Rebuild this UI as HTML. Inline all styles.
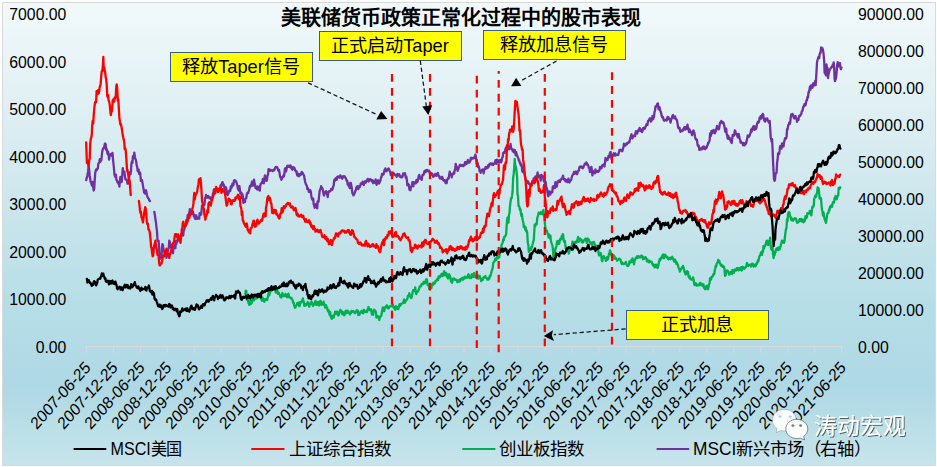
<!DOCTYPE html>
<html lang="zh-CN"><head><meta charset="utf-8"><style>
html,body{margin:0;padding:0;background:#fff;width:937px;height:467px;overflow:hidden}
#c{position:absolute;left:2px;top:2px;width:934px;height:464px;box-sizing:border-box;border:1px solid #d9d9d9;
background:linear-gradient(to bottom,#f2f9fb 0%,#deeff3 24.5%,#c5e3ea 50.5%,#b6dee7 65.5%,#aed8e5 83%,#badfe7 91.5%,#c7e4ec 100%)}
svg{position:absolute;left:0;top:0}
text{font-family:"Liberation Sans",sans-serif}
</style></head><body>
<div id="c"></div>
<svg width="937" height="467" viewBox="0 0 937 467">
<g font-size="15.8" fill="#000"><text x="66.4" y="352.9" text-anchor="end">0.00</text><text x="66.4" y="305.3" text-anchor="end">1000.00</text><text x="66.4" y="257.8" text-anchor="end">2000.00</text><text x="66.4" y="210.2" text-anchor="end">3000.00</text><text x="66.4" y="162.6" text-anchor="end">4000.00</text><text x="66.4" y="115.1" text-anchor="end">5000.00</text><text x="66.4" y="67.5" text-anchor="end">6000.00</text><text x="66.4" y="19.9" text-anchor="end">7000.00</text><text x="858" y="352.9">0.00</text><text x="858" y="315.9">10000.00</text><text x="858" y="278.9">20000.00</text><text x="858" y="242.0">30000.00</text><text x="858" y="205.0">40000.00</text><text x="858" y="168.0">50000.00</text><text x="858" y="131.0">60000.00</text><text x="858" y="94.0">70000.00</text><text x="858" y="57.1">80000.00</text><text x="858" y="20.1">90000.00</text></g>
<path d="M86.4,346.5 H841.7 M86.4,346.5 V352.5 M113.4,346.5 V352.5 M140.4,346.5 V352.5 M167.3,346.5 V352.5 M194.3,346.5 V352.5 M221.3,346.5 V352.5 M248.2,346.5 V352.5 M275.2,346.5 V352.5 M302.2,346.5 V352.5 M329.2,346.5 V352.5 M356.2,346.5 V352.5 M383.1,346.5 V352.5 M410.1,346.5 V352.5 M437.1,346.5 V352.5 M464.1,346.5 V352.5 M491.0,346.5 V352.5 M518.0,346.5 V352.5 M545.0,346.5 V352.5 M572.0,346.5 V352.5 M598.9,346.5 V352.5 M625.9,346.5 V352.5 M652.9,346.5 V352.5 M679.9,346.5 V352.5 M706.8,346.5 V352.5 M733.8,346.5 V352.5 M760.8,346.5 V352.5 M787.8,346.5 V352.5 M814.7,346.5 V352.5 M841.7,346.5 V352.5" stroke="#d9d9d9" stroke-width="1" fill="none"/>
<g font-size="15.1" fill="#000"><text transform="translate(91.4,368.5) scale(1,1.13) rotate(-45)" text-anchor="end">2007-06-25</text><text transform="translate(118.4,368.5) scale(1,1.13) rotate(-45)" text-anchor="end">2007-12-25</text><text transform="translate(145.4,368.5) scale(1,1.13) rotate(-45)" text-anchor="end">2008-06-25</text><text transform="translate(172.3,368.5) scale(1,1.13) rotate(-45)" text-anchor="end">2008-12-25</text><text transform="translate(199.3,368.5) scale(1,1.13) rotate(-45)" text-anchor="end">2009-06-25</text><text transform="translate(226.3,368.5) scale(1,1.13) rotate(-45)" text-anchor="end">2009-12-25</text><text transform="translate(253.2,368.5) scale(1,1.13) rotate(-45)" text-anchor="end">2010-06-25</text><text transform="translate(280.2,368.5) scale(1,1.13) rotate(-45)" text-anchor="end">2010-12-25</text><text transform="translate(307.2,368.5) scale(1,1.13) rotate(-45)" text-anchor="end">2011-06-25</text><text transform="translate(334.2,368.5) scale(1,1.13) rotate(-45)" text-anchor="end">2011-12-25</text><text transform="translate(361.2,368.5) scale(1,1.13) rotate(-45)" text-anchor="end">2012-06-25</text><text transform="translate(388.1,368.5) scale(1,1.13) rotate(-45)" text-anchor="end">2012-12-25</text><text transform="translate(415.1,368.5) scale(1,1.13) rotate(-45)" text-anchor="end">2013-06-25</text><text transform="translate(442.1,368.5) scale(1,1.13) rotate(-45)" text-anchor="end">2013-12-25</text><text transform="translate(469.1,368.5) scale(1,1.13) rotate(-45)" text-anchor="end">2014-06-25</text><text transform="translate(496.0,368.5) scale(1,1.13) rotate(-45)" text-anchor="end">2014-12-25</text><text transform="translate(523.0,368.5) scale(1,1.13) rotate(-45)" text-anchor="end">2015-06-25</text><text transform="translate(550.0,368.5) scale(1,1.13) rotate(-45)" text-anchor="end">2015-12-25</text><text transform="translate(577.0,368.5) scale(1,1.13) rotate(-45)" text-anchor="end">2016-06-25</text><text transform="translate(603.9,368.5) scale(1,1.13) rotate(-45)" text-anchor="end">2016-12-25</text><text transform="translate(630.9,368.5) scale(1,1.13) rotate(-45)" text-anchor="end">2017-06-25</text><text transform="translate(657.9,368.5) scale(1,1.13) rotate(-45)" text-anchor="end">2017-12-25</text><text transform="translate(684.9,368.5) scale(1,1.13) rotate(-45)" text-anchor="end">2018-06-25</text><text transform="translate(711.8,368.5) scale(1,1.13) rotate(-45)" text-anchor="end">2018-12-25</text><text transform="translate(738.8,368.5) scale(1,1.13) rotate(-45)" text-anchor="end">2019-06-25</text><text transform="translate(765.8,368.5) scale(1,1.13) rotate(-45)" text-anchor="end">2019-12-25</text><text transform="translate(792.8,368.5) scale(1,1.13) rotate(-45)" text-anchor="end">2020-06-25</text><text transform="translate(819.7,368.5) scale(1,1.13) rotate(-45)" text-anchor="end">2020-12-25</text><text transform="translate(846.7,368.5) scale(1,1.13) rotate(-45)" text-anchor="end">2021-06-25</text></g>
<g fill="none" stroke-width="2.3" stroke-linejoin="round" stroke-linecap="round"><path d="M86.2 180.2 86.7 177.4 87.2 177.3 87.6 174.2 88.1 171.2 88.6 166.5 89.1 169.0 89.6 175.2 90.1 177.8 90.6 181.9 91.2 183.0 91.7 184.7 92.2 185.9 92.7 182.0 93.2 187.4 93.7 190.5 94.2 188.9 94.7 180.1 95.2 173.3 95.7 170.7 96.2 169.4 96.8 170.1 97.3 168.6 97.8 168.5 98.3 163.9 98.8 163.0 99.3 162.5 99.8 159.1 100.3 161.9 100.8 160.5 101.3 160.5 101.8 155.7 102.2 151.8 102.7 149.6 103.2 148.2 103.7 148.5 104.2 147.2 104.7 144.2 105.2 143.4 105.7 144.5 106.2 150.0 106.7 149.1 107.1 151.6 107.6 154.1 108.1 151.6 108.6 154.3 109.1 159.6 109.6 154.8 110.1 154.9 110.6 155.2 111.0 154.0 111.5 155.7 112.0 155.6 112.5 152.8 113.0 159.3 113.5 164.0 114.0 169.0 114.5 174.7 115.0 176.1 115.5 177.2 115.9 174.6 116.4 179.8 116.9 180.3 117.4 182.2 117.9 181.9 118.4 183.6 118.9 183.0 119.4 186.6 119.9 180.3 120.4 177.0 120.8 178.6 121.3 182.0 121.8 181.6 122.3 174.7 122.8 168.2 123.3 172.2 123.8 172.4 124.4 171.7 124.9 176.1 125.4 179.4 125.9 179.4 126.4 179.7 127.0 180.5 127.5 183.7 128.0 183.6 128.5 181.6 129.0 179.7 129.5 172.3 129.9 174.4 130.4 174.3 130.9 172.4 131.4 164.0 131.9 161.4 132.4 163.0 132.9 156.4 133.3 155.8 133.8 158.0 134.3 152.6 134.8 156.2 135.3 159.0 135.8 159.7 136.3 162.2 136.7 165.4 137.2 166.8 137.7 171.2 138.2 170.0 138.7 169.7 139.1 173.8 139.6 174.2 140.1 172.5 140.5 176.6 141.0 181.0 141.5 181.2 142.0 180.1 142.6 183.4 143.1 186.6 143.6 189.3 144.1 192.7 144.6 190.7 145.1 193.6 145.5 191.0 146.0 190.3 146.5 192.5 147.0 195.0 147.5 197.1 148.0 197.9 148.5 198.5 149.0 199.2 149.5 200.9 150.0 201.0" stroke="#7030a0"/><path d="M154.3 211.8 154.9 215.2 155.4 219.3 155.9 221.8 156.5 227.3 157.0 231.4 157.5 240.5 158.1 241.5 158.6 240.7 159.1 248.2 159.6 257.9 160.1 258.7 160.5 255.4 161.0 254.7 161.5 257.5 162.0 247.4 162.4 244.1 162.9 245.0 163.4 248.8 163.9 251.4 164.5 251.6 165.0 255.7 165.5 255.2 166.0 252.6 166.4 257.9 166.9 256.0 167.4 252.2 167.9 250.6 168.3 249.0 168.8 248.1 169.3 240.7 169.8 242.1 170.4 246.8 170.9 244.6 171.4 245.9 172.0 249.3 172.5 251.4 173.0 253.1 173.5 247.3 173.9 246.2 174.4 245.3 174.9 246.5 175.4 248.1 175.8 241.1 176.3 244.2 176.8 240.7 177.3 241.8 177.8 238.4 178.3 238.6 178.8 240.0 179.2 238.3 179.7 237.3 180.2 237.2 180.7 235.7 181.2 234.0 181.7 235.5 182.2 235.3 182.7 232.1 183.2 235.5 183.8 229.8 184.3 229.7 184.8 227.0 185.3 225.6 185.8 225.4 186.3 223.9 186.8 223.4 187.3 218.5 187.8 215.0 188.3 216.4 188.9 213.9 189.4 211.7 189.9 209.1 190.4 212.2 190.9 212.9 191.4 214.3 191.9 212.4 192.4 212.7 192.9 211.5 193.4 213.7 193.9 216.5 194.4 215.0 194.8 217.8 195.3 219.0 195.8 218.3 196.3 215.5 196.8 218.7 197.3 218.9 197.8 218.5 198.3 218.0 198.8 217.2 199.2 218.6 199.7 213.2 200.2 214.0 200.7 214.8 201.1 214.7 201.6 210.4 202.1 205.7 202.6 206.5 203.1 205.2 203.6 204.2 204.1 205.4 204.6 203.2 205.1 198.1 205.5 197.8 206.0 194.9 206.5 197.2 207.0 197.7 207.5 196.2 208.0 196.0 208.5 197.1 209.0 196.7 209.5 198.3 210.0 197.2 210.5 198.0 211.0 199.2 211.5 200.1 212.0 197.1 212.5 197.4 213.0 193.3 213.5 191.8 214.0 189.3 214.5 192.4 215.0 190.7 215.5 191.0 216.0 190.8 216.5 190.6 217.0 189.5 217.5 189.8 218.0 192.0 218.5 190.7 219.0 190.3 219.5 190.6 220.0 188.8 220.5 185.8 221.0 184.7 221.5 186.2 222.0 182.9 222.5 182.1 223.0 183.8 223.5 184.3 224.0 185.5 224.5 188.6 224.9 189.8 225.4 188.4 225.9 187.2 226.4 189.0 226.8 194.0 227.3 194.7 227.8 195.0 228.3 193.7 228.8 191.2 229.3 191.6 229.8 189.8 230.3 190.9 230.8 186.5 231.3 188.0 231.8 186.9 232.4 183.6 232.9 185.7 233.4 185.0 233.9 180.8 234.4 180.1 234.9 181.3 235.4 180.5 235.9 181.7 236.4 182.1 236.9 184.3 237.4 185.4 237.9 188.6 238.4 189.8 238.9 190.5 239.4 186.1 239.9 189.9 240.4 193.6 240.9 193.1 241.4 192.8 241.9 198.1 242.4 194.2 242.9 196.7 243.4 202.9 243.9 200.3 244.4 200.2 244.9 202.2 245.3 199.3 245.8 198.4 246.3 198.2 246.8 194.2 247.3 192.9 247.8 192.5 248.2 193.0 248.7 191.3 249.2 189.6 249.7 186.8 250.2 185.8 250.6 186.8 251.1 185.9 251.6 183.4 252.1 181.5 252.5 185.6 253.0 185.5 253.5 184.3 254.0 179.7 254.5 182.4 254.9 184.2 255.4 187.7 255.9 188.2 256.4 188.0 256.8 189.2 257.3 186.3 257.8 189.6 258.3 189.3 258.8 186.8 259.3 188.8 259.8 190.7 260.3 185.6 260.9 183.4 261.4 183.5 261.9 183.0 262.4 181.4 262.9 179.0 263.4 182.9 263.9 183.2 264.4 178.9 264.9 175.5 265.4 178.8 266.0 179.3 266.5 180.9 267.0 179.8 267.5 175.6 268.0 174.7 268.5 169.3 269.0 169.1 269.5 169.8 270.0 170.9 270.5 169.8 271.0 169.8 271.5 170.5 272.0 170.7 272.5 171.1 273.1 170.7 273.6 169.6 274.1 170.3 274.6 169.6 275.1 168.0 275.6 167.0 276.1 167.2 276.6 167.0 277.1 167.1 277.6 168.4 278.1 170.0 278.5 170.9 279.0 169.9 279.5 172.7 280.0 176.2 280.5 177.7 281.0 178.0 281.4 179.8 281.9 178.8 282.4 176.8 282.9 177.2 283.4 175.3 283.9 176.5 284.4 173.8 284.9 168.9 285.4 168.1 285.9 171.6 286.4 170.1 286.9 167.0 287.4 165.7 287.9 166.5 288.4 166.7 288.9 165.8 289.4 167.0 289.9 166.1 290.4 165.5 290.9 166.2 291.4 168.5 291.9 169.1 292.4 169.7 292.9 167.2 293.4 167.1 293.9 168.5 294.5 168.0 295.0 170.0 295.5 170.7 296.0 171.8 296.5 171.1 297.0 174.9 297.5 175.6 298.0 174.0 298.5 173.6 299.0 176.3 299.5 174.4 300.1 174.7 300.6 175.1 301.1 174.1 301.6 172.0 302.1 172.4 302.7 172.9 303.2 174.3 303.7 174.8 304.2 176.2 304.7 179.8 305.2 182.1 305.7 183.5 306.2 184.8 306.8 185.7 307.3 189.2 307.8 188.0 308.3 189.0 308.8 191.9 309.3 190.6 309.8 192.0 310.3 190.2 310.8 191.9 311.3 195.7 311.8 198.5 312.3 199.5 312.8 200.1 313.2 198.6 313.7 204.1 314.2 205.5 314.7 207.8 315.2 205.9 315.7 206.3 316.2 203.8 316.7 207.4 317.2 208.3 317.7 201.5 318.1 201.0 318.6 201.6 319.1 195.8 319.6 191.3 320.1 189.6 320.6 189.0 321.1 186.2 321.5 187.2 322.0 187.8 322.5 188.5 323.0 190.7 323.5 193.8 324.1 195.5 324.6 192.5 325.1 192.3 325.6 191.5 326.1 191.2 326.7 193.1 327.2 194.8 327.7 197.1 328.2 193.4 328.7 191.3 329.2 191.8 329.7 191.5 330.2 190.9 330.7 190.6 331.2 188.8 331.7 190.0 332.2 189.8 332.7 188.6 333.2 186.4 333.7 185.6 334.2 180.2 334.7 179.5 335.2 180.6 335.7 178.2 336.2 179.4 336.7 179.8 337.2 177.0 337.7 176.9 338.2 176.4 338.7 177.2 339.2 177.7 339.7 176.5 340.2 175.4 340.7 175.9 341.2 176.5 341.7 178.2 342.2 178.7 342.7 177.7 343.2 176.2 343.7 176.8 344.2 176.7 344.7 176.3 345.2 177.6 345.7 178.0 346.2 179.3 346.7 180.8 347.2 180.6 347.7 184.6 348.2 183.4 348.7 186.0 349.2 185.9 349.8 188.2 350.3 182.9 350.8 183.0 351.3 185.5 351.8 188.0 352.4 193.5 352.9 193.3 353.4 195.4 353.9 194.4 354.4 193.8 354.9 192.6 355.4 190.6 355.9 190.2 356.3 187.3 356.8 188.8 357.3 186.2 357.8 186.3 358.3 189.1 358.8 187.1 359.3 186.1 359.8 187.0 360.3 185.7 360.8 183.3 361.2 183.3 361.7 183.7 362.2 183.9 362.7 181.6 363.2 183.9 363.7 185.1 364.2 183.5 364.7 182.7 365.2 181.2 365.7 182.7 366.2 180.7 366.7 181.3 367.2 180.0 367.7 178.9 368.2 180.0 368.7 181.5 369.2 180.6 369.7 179.1 370.2 180.1 370.7 179.5 371.2 179.6 371.7 181.2 372.2 181.7 372.7 180.3 373.2 183.2 373.7 182.3 374.2 182.8 374.7 181.5 375.2 181.6 375.6 179.5 376.1 182.9 376.6 184.8 377.1 182.8 377.6 181.2 378.1 180.2 378.6 183.3 379.1 183.4 379.6 182.5 380.1 181.1 380.6 180.1 381.0 177.3 381.5 177.2 382.0 173.9 382.5 174.0 383.0 174.4 383.5 174.5 384.0 172.9 384.4 170.2 384.9 170.1 385.4 168.4 385.9 170.7 386.4 171.3 386.9 170.7 387.4 169.9 387.9 169.1 388.4 168.5 388.9 168.9 389.4 170.1 389.8 171.3 390.3 172.3 390.8 175.0 391.3 173.2 391.8 173.1 392.3 176.8 392.8 173.1 393.3 172.6 393.8 173.4 394.3 174.0 394.7 174.8 395.2 174.6 395.7 175.4 396.2 175.6 396.7 176.9 397.2 174.2 397.7 173.9 398.1 175.0 398.6 174.5 399.1 174.2 399.6 176.5 400.1 175.6 400.6 176.7 401.2 177.4 401.7 177.2 402.2 177.2 402.7 176.1 403.2 173.5 403.8 173.6 404.3 174.2 404.8 173.1 405.3 174.4 405.8 177.8 406.3 176.5 406.8 179.7 407.4 185.3 407.9 183.5 408.4 184.5 408.9 184.8 409.4 189.6 409.9 190.2 410.4 190.2 410.9 187.3 411.4 186.4 411.9 185.8 412.4 182.2 412.9 185.2 413.4 186.2 413.8 182.1 414.3 183.6 414.8 183.0 415.3 183.4 415.8 183.4 416.3 180.1 416.8 180.0 417.3 182.2 417.8 180.3 418.3 178.3 418.7 176.2 419.2 174.9 419.7 176.1 420.2 178.7 420.7 178.3 421.2 177.6 421.7 179.9 422.1 177.1 422.6 174.8 423.1 174.9 423.6 174.8 424.1 172.6 424.6 170.8 425.1 171.8 425.6 172.2 426.1 170.2 426.7 170.4 427.2 169.9 427.7 171.1 428.2 170.9 428.7 170.7 429.2 170.7 429.7 172.8 430.2 174.7 430.7 173.6 431.2 174.7 431.7 173.3 432.2 173.7 432.7 174.9 433.3 176.9 433.8 175.7 434.3 175.5 434.8 175.8 435.3 173.8 435.8 174.7 436.3 174.5 436.8 175.8 437.3 174.8 437.8 172.8 438.3 174.6 438.8 176.2 439.2 176.1 439.7 178.3 440.2 178.1 440.7 177.6 441.2 178.9 441.7 176.9 442.2 176.9 442.7 178.1 443.2 180.2 443.6 180.2 444.1 180.9 444.6 180.1 445.1 181.1 445.6 183.0 446.1 180.4 446.6 183.2 447.1 180.1 447.6 178.9 448.1 178.1 448.6 178.7 449.1 175.3 449.7 171.6 450.2 173.1 450.7 174.2 451.2 174.4 451.7 177.4 452.2 175.3 452.7 173.8 453.2 173.7 453.7 172.5 454.2 173.7 454.7 170.2 455.2 169.1 455.7 163.8 456.2 166.5 456.6 166.4 457.1 168.1 457.6 170.9 458.1 169.5 458.6 168.1 459.1 166.8 459.6 165.3 460.1 164.6 460.6 165.8 461.1 165.7 461.5 165.6 462.0 165.0 462.5 166.1 463.0 166.2 463.5 165.2 464.0 165.6 464.5 164.5 465.0 162.2 465.5 164.5 466.0 164.3 466.5 162.0 466.9 163.4 467.4 163.1 467.9 159.9 468.4 162.5 468.9 162.1 469.4 162.6 469.9 161.8 470.4 160.6 470.9 157.6 471.4 159.3 471.8 158.9 472.3 158.0 472.8 158.3 473.3 157.9 473.8 158.4 474.3 157.1 474.8 157.8 475.3 154.6 475.8 156.1 476.2 159.5 476.7 163.3 477.2 162.8 477.7 163.2 478.2 167.1 478.7 166.3 479.2 168.1 479.6 171.4 480.1 170.7 480.6 172.8 481.1 170.8 481.6 170.4 482.1 169.7 482.6 169.4 483.1 170.7 483.6 173.4 484.1 170.5 484.6 168.7 485.1 169.1 485.7 166.9 486.2 167.8 486.7 168.4 487.2 167.5 487.7 168.0 488.2 165.2 488.7 166.8 489.2 164.3 489.7 163.9 490.2 163.6 490.7 163.4 491.2 164.7 491.6 164.4 492.1 163.4 492.6 163.7 493.1 165.0 493.6 163.8 494.1 163.3 494.6 163.8 495.0 162.8 495.5 160.1 496.0 162.7 496.5 163.9 497.0 159.7 497.5 159.8 498.1 160.6 498.6 161.9 499.1 162.5 499.6 161.5 500.1 159.9 500.7 160.5 501.2 162.3 501.7 160.5 502.2 157.6 502.7 157.2 503.2 152.8 503.6 152.8 504.1 152.0 504.6 152.8 505.1 150.6 505.6 148.5 506.1 147.6 506.6 147.2 507.0 145.4 507.5 145.1 508.0 145.9 508.5 146.8 509.0 149.4 509.5 147.5 510.1 147.1 510.6 143.9 511.1 148.9 511.6 148.4 512.1 149.4 512.7 151.2 513.2 149.7 513.7 151.9 514.2 152.5 514.7 149.8 515.2 152.0 515.7 155.3 516.2 152.1 516.8 155.0 517.3 155.9 517.8 157.2 518.3 158.2 518.8 160.5 519.3 160.3 519.8 163.1 520.3 162.6 520.7 165.3 521.2 164.2 521.7 165.5 522.2 170.9 522.7 172.1 523.2 172.1 523.7 170.4 524.1 170.6 524.6 173.4 525.1 177.3 525.6 179.3 526.1 180.3 526.6 180.3 527.2 182.8 527.7 182.0 528.2 181.4 528.7 183.6 529.2 184.0 529.8 184.0 530.3 183.8 530.8 184.5 531.3 185.1 531.8 184.7 532.3 181.2 532.7 181.7 533.2 181.3 533.7 178.5 534.2 179.6 534.7 178.2 535.2 176.8 535.7 177.7 536.1 178.9 536.6 175.7 537.1 175.4 537.6 172.5 538.1 177.1 538.6 175.4 539.1 177.4 539.6 175.7 540.1 177.1 540.7 180.6 541.2 175.0 541.7 175.0 542.2 176.7 542.7 177.0 543.2 176.3 543.7 180.8 544.2 181.8 544.7 179.4 545.2 183.9 545.7 181.8 546.2 187.4 546.8 187.9 547.3 190.4 547.8 195.1 548.3 196.3 548.8 194.5 549.3 191.4 549.8 193.9 550.3 194.5 550.8 191.9 551.3 192.8 551.8 192.5 552.3 192.2 552.8 186.7 553.4 186.2 553.9 187.6 554.4 188.0 554.9 188.1 555.4 182.2 555.9 182.5 556.4 183.0 556.9 186.5 557.4 182.5 557.9 181.3 558.4 181.0 558.9 182.0 559.4 180.5 560.0 181.9 560.5 179.7 561.0 179.8 561.5 178.6 562.0 178.7 562.5 177.4 563.0 175.7 563.5 178.6 564.0 179.5 564.5 178.9 565.0 179.6 565.5 181.4 566.0 179.8 566.4 180.0 566.9 181.3 567.4 182.1 567.9 181.5 568.4 178.6 568.9 181.7 569.4 182.5 569.9 181.7 570.4 180.4 570.9 180.3 571.4 178.8 572.0 176.5 572.5 175.3 573.0 174.5 573.5 173.7 574.0 172.0 574.5 173.9 575.0 171.8 575.5 173.3 576.0 171.5 576.5 172.3 577.0 174.2 577.4 173.4 577.9 171.2 578.4 170.8 578.9 170.5 579.4 167.2 579.9 166.6 580.4 167.2 580.9 166.4 581.4 166.6 581.9 167.5 582.3 168.0 582.8 168.3 583.3 167.8 583.8 165.9 584.3 164.9 584.8 163.7 585.3 163.7 585.8 164.2 586.3 162.3 586.8 163.4 587.3 164.8 587.8 164.4 588.3 165.8 588.8 167.8 589.4 168.2 589.9 172.1 590.4 167.6 590.9 168.6 591.4 166.9 591.9 170.4 592.4 175.4 592.9 170.9 593.4 172.2 593.9 173.1 594.4 172.4 594.9 173.2 595.4 169.4 595.9 171.6 596.4 172.2 597.0 172.0 597.5 170.9 598.0 171.9 598.5 170.9 599.0 171.2 599.5 170.3 600.0 167.0 600.5 167.3 601.0 167.5 601.5 168.2 602.0 165.7 602.5 165.1 603.0 165.3 603.5 164.4 604.0 165.2 604.5 166.5 605.0 162.5 605.5 158.0 606.0 159.0 606.5 160.4 607.0 160.0 607.5 160.0 608.0 157.7 608.5 156.0 609.1 157.3 609.6 155.3 610.1 152.5 610.6 151.9 611.1 156.8 611.6 159.1 612.2 156.4 612.7 154.6 613.2 154.8 613.7 153.3 614.2 155.5 614.7 155.1 615.2 153.4 615.6 155.6 616.1 154.5 616.6 154.9 617.1 154.9 617.6 154.4 618.1 155.1 618.5 154.1 619.0 151.9 619.5 149.9 620.0 150.0 620.5 149.7 621.0 150.4 621.5 150.7 622.0 151.3 622.5 150.7 623.0 148.7 623.5 147.2 623.9 143.7 624.4 144.2 624.9 145.2 625.4 145.6 625.9 144.6 626.4 143.5 626.9 144.2 627.4 143.0 627.9 143.1 628.4 142.7 628.9 141.6 629.4 142.4 629.9 139.6 630.4 137.9 631.0 135.9 631.5 134.3 632.0 136.7 632.5 138.3 633.0 136.4 633.5 135.7 634.0 136.0 634.5 135.8 635.0 136.3 635.5 132.7 636.0 131.2 636.5 131.9 637.0 133.7 637.5 132.8 638.1 130.7 638.6 130.0 639.1 129.0 639.6 127.9 640.1 130.8 640.6 129.3 641.1 129.3 641.6 131.9 642.1 132.0 642.6 130.6 643.1 128.1 643.5 127.8 644.0 129.1 644.5 128.3 645.0 128.5 645.5 126.7 646.0 126.0 646.5 124.3 647.0 124.0 647.5 124.9 648.0 121.1 648.5 120.6 648.9 120.5 649.4 119.0 649.9 118.2 650.4 119.2 650.9 121.6 651.4 120.8 651.9 119.9 652.4 115.9 653.0 119.2 653.5 118.1 654.0 117.0 654.5 111.9 655.0 110.6 655.5 106.5 656.0 106.2 656.5 106.3 657.0 104.7 657.5 103.6 658.0 103.5 658.5 109.3 659.0 109.1 659.5 107.1 660.1 110.2 660.6 111.6 661.1 112.7 661.6 115.6 662.1 117.3 662.6 116.6 663.1 117.4 663.6 120.0 664.1 120.7 664.6 120.1 665.0 120.1 665.5 119.8 666.0 119.6 666.5 120.6 667.0 120.1 667.5 116.8 668.0 117.8 668.5 117.3 669.0 119.1 669.5 118.6 670.0 119.4 670.5 122.7 671.0 120.5 671.5 119.0 672.0 117.7 672.5 115.6 673.1 115.0 673.6 117.6 674.1 118.0 674.6 116.7 675.1 116.4 675.6 119.0 676.1 118.9 676.6 119.5 677.1 120.8 677.6 124.1 678.1 127.4 678.6 128.3 679.0 127.7 679.5 127.6 680.0 130.4 680.5 131.9 681.0 130.3 681.5 130.7 682.0 130.9 682.4 131.0 682.9 130.3 683.4 128.8 683.9 129.3 684.4 127.1 684.9 129.4 685.4 129.6 686.0 127.0 686.5 128.7 687.0 128.8 687.5 124.7 688.0 127.0 688.5 128.7 689.0 132.2 689.5 129.3 690.0 130.6 690.5 131.7 691.0 132.3 691.5 133.0 692.0 135.2 692.5 132.7 693.0 131.3 693.5 130.4 694.0 131.9 694.4 133.0 694.9 136.2 695.4 138.4 695.9 139.6 696.4 139.2 696.9 139.8 697.4 143.4 697.8 145.7 698.3 146.1 698.8 145.8 699.3 149.9 699.8 148.1 700.3 148.5 700.8 149.5 701.3 148.4 701.8 149.2 702.3 147.2 702.8 148.7 703.2 148.7 703.7 146.4 704.2 147.9 704.7 147.0 705.2 149.2 705.7 148.2 706.2 148.2 706.7 147.7 707.2 145.6 707.7 145.0 708.1 142.6 708.6 143.0 709.1 141.5 709.6 140.5 710.1 133.4 710.6 136.3 711.1 135.4 711.5 130.8 712.0 131.1 712.5 131.6 713.0 132.7 713.5 129.9 714.0 132.0 714.5 130.5 715.0 133.3 715.5 131.0 716.0 130.7 716.5 128.6 717.0 126.0 717.5 127.5 718.0 128.0 718.5 129.4 719.0 129.1 719.4 126.6 719.9 123.1 720.4 122.3 720.9 121.7 721.4 120.9 721.9 122.5 722.3 123.1 722.8 122.4 723.3 122.5 723.8 123.7 724.3 125.7 724.8 128.7 725.2 131.6 725.7 130.5 726.2 128.6 726.7 134.0 727.2 135.3 727.7 138.7 728.2 135.7 728.6 137.0 729.1 139.1 729.6 137.9 730.1 139.6 730.6 140.9 731.1 141.9 731.7 143.0 732.2 138.9 732.7 134.9 733.2 135.2 733.7 135.8 734.3 134.4 734.8 130.3 735.3 131.0 735.8 133.2 736.3 134.6 736.8 133.9 737.2 135.2 737.7 137.3 738.2 136.5 738.7 133.9 739.2 136.6 739.7 138.9 740.2 139.9 740.6 142.5 741.1 141.8 741.6 142.6 742.1 143.0 742.6 143.5 743.1 145.2 743.6 143.0 744.1 145.2 744.6 145.4 745.1 144.2 745.6 142.8 746.1 143.5 746.7 140.6 747.2 138.6 747.7 135.4 748.2 135.7 748.7 137.0 749.2 136.3 749.7 135.4 750.2 133.5 750.7 132.7 751.2 129.5 751.7 131.5 752.2 130.2 752.6 128.0 753.1 127.0 753.6 126.1 754.1 128.2 754.6 129.8 755.1 126.6 755.5 128.2 756.0 129.1 756.5 127.0 757.0 124.0 757.5 122.7 758.0 121.7 758.6 122.6 759.1 121.6 759.6 117.6 760.1 118.9 760.6 116.2 761.1 118.7 761.7 116.1 762.2 115.1 762.7 113.9 763.2 114.7 763.7 118.5 764.2 120.3 764.7 121.3 765.2 121.6 765.8 118.7 766.3 118.8 766.8 118.9 767.3 118.5 767.8 120.8 768.3 121.2 768.8 122.3 769.3 122.9 769.7 120.8 770.2 128.7 770.7 137.1 771.2 139.6 771.7 141.8 772.1 139.1 772.6 149.8 773.1 162.7 773.5 169.9 774.0 179.0 774.5 180.8 775.0 180.0 775.5 173.4 776.0 173.7 776.6 172.2 777.1 162.5 777.6 159.5 778.1 153.3 778.6 153.4 779.1 154.0 779.6 150.7 780.1 146.1 780.5 148.6 781.0 147.8 781.5 148.6 782.0 143.4 782.5 143.7 783.0 145.0 783.5 146.5 784.0 142.5 784.5 140.6 785.1 138.1 785.6 138.5 786.1 138.5 786.6 136.2 787.1 129.2 787.6 129.3 788.2 125.3 788.7 124.8 789.2 122.7 789.7 124.0 790.2 122.7 790.8 116.9 791.3 114.4 791.8 115.6 792.3 113.8 792.8 114.4 793.4 116.2 793.9 118.0 794.4 118.5 795.0 116.6 795.5 115.9 796.0 118.0 796.5 118.6 797.0 121.9 797.4 119.2 797.9 120.2 798.4 120.2 798.9 116.8 799.3 115.6 799.8 116.2 800.3 115.6 800.8 114.3 801.3 114.1 801.9 111.1 802.4 111.0 802.9 108.4 803.4 106.3 803.9 106.5 804.5 104.1 805.0 103.6 805.5 105.3 806.0 102.7 806.5 100.1 807.0 100.0 807.5 96.9 808.0 97.4 808.5 92.1 809.0 92.3 809.5 89.4 810.0 86.4 810.5 89.5 811.0 85.3 811.5 87.7 812.0 87.0 812.6 87.7 813.1 83.5 813.6 84.5 814.1 85.5 814.7 82.9 815.2 81.0 815.7 85.1 816.1 78.1 816.6 70.0 817.0 62.5 817.5 60.0 818.0 58.5 818.6 56.6 819.2 58.1 819.7 54.0 820.2 52.5 820.6 52.9 821.1 47.5 821.5 47.6 822.0 48.7 822.5 48.3 823.0 50.2 823.5 53.2 824.2 61.5 824.6 72.5 825.0 73.5 825.5 73.7 826.0 75.4 826.5 64.5 827.0 69.0 827.5 67.7 828.0 78.0 828.5 74.1 829.1 71.7 829.7 69.9 830.2 69.0 830.7 68.0 831.2 67.8 831.7 66.6 832.2 66.8 832.7 64.7 833.2 65.2 833.7 62.3 834.1 66.4 834.6 78.5 835.0 81.2 835.5 79.5 836.0 78.5 836.6 72.4 837.2 64.8 837.7 62.2 838.2 65.2 838.6 66.3 839.1 66.1 839.5 64.5 840.0 63.0 840.5 68.1 841.0 69.2 841.5 67.5" stroke="#7030a0"/><path d="M245.3 293.8 245.8 290.7 246.3 290.9 246.8 299.8 247.4 298.3 247.9 300.2 248.4 302.5 248.9 303.8 249.4 304.9 249.9 302.2 250.4 300.8 250.9 304.1 251.4 301.9 251.9 302.9 252.5 299.1 253.0 298.7 253.5 299.1 254.0 300.4 254.5 297.4 255.0 298.0 255.5 298.6 256.0 297.5 256.5 298.5 257.0 297.3 257.4 296.8 257.9 297.5 258.4 294.5 258.9 296.0 259.4 295.8 259.9 295.2 260.4 296.2 260.9 298.5 261.3 298.5 261.8 300.7 262.3 299.0 262.8 297.8 263.3 300.8 263.8 300.9 264.3 301.8 264.8 299.2 265.3 300.1 265.7 299.7 266.2 299.9 266.7 298.9 267.2 300.1 267.7 297.6 268.2 295.3 268.7 292.8 269.2 295.5 269.6 293.9 270.1 292.3 270.6 291.2 271.1 291.2 271.6 289.7 272.1 290.1 272.5 289.7 273.0 289.3 273.5 288.3 273.9 288.9 274.4 288.3 274.9 289.8 275.4 291.2 275.9 292.6 276.4 289.5 276.9 290.4 277.4 290.8 277.9 293.9 278.4 292.3 278.9 292.9 279.4 294.2 279.9 295.2 280.4 297.0 280.9 296.3 281.4 297.5 281.9 295.1 282.4 293.0 283.0 295.4 283.5 295.9 284.0 296.2 284.5 295.8 285.0 296.0 285.5 293.8 286.0 295.9 286.5 295.2 287.0 297.1 287.5 297.2 288.0 294.3 288.5 293.6 289.0 296.9 289.5 297.2 290.0 297.2 290.5 298.3 291.0 298.1 291.5 298.0 292.0 299.0 292.5 299.8 293.0 302.5 293.5 302.1 294.0 304.8 294.5 306.6 295.0 307.7 295.5 307.5 295.9 306.0 296.4 305.2 296.9 304.3 297.4 302.9 297.9 303.2 298.4 302.6 298.9 305.8 299.4 306.3 299.9 304.9 300.4 301.9 300.9 302.5 301.4 302.4 301.8 301.3 302.3 300.5 302.8 298.4 303.3 300.9 303.8 301.7 304.3 305.8 304.8 304.8 305.3 303.9 305.7 305.6 306.2 304.8 306.7 304.3 307.2 303.2 307.7 302.1 308.2 304.4 308.7 305.2 309.2 306.7 309.6 304.9 310.1 304.2 310.6 302.6 311.1 304.0 311.6 301.8 312.1 303.0 312.5 304.5 313.0 306.0 313.5 303.7 314.0 305.0 314.5 303.4 315.0 302.4 315.5 300.9 316.0 303.0 316.5 304.9 317.0 303.5 317.5 302.3 318.1 302.0 318.6 305.2 319.1 305.5 319.6 303.8 320.1 301.2 320.6 300.8 321.1 302.8 321.6 304.9 322.1 304.3 322.6 303.6 323.1 303.6 323.6 301.7 324.1 305.1 324.6 304.4 325.1 307.6 325.6 305.6 326.1 305.2 326.6 307.6 327.1 307.8 327.7 310.6 328.2 311.4 328.7 310.4 329.2 312.8 329.7 314.9 330.2 312.2 330.7 316.6 331.2 317.6 331.7 318.9 332.2 315.9 332.7 316.0 333.2 315.8 333.7 317.7 334.2 315.1 334.7 314.1 335.1 311.7 335.6 312.5 336.1 313.8 336.6 311.6 337.1 311.6 337.6 313.1 338.1 315.4 338.6 315.5 339.0 314.1 339.5 311.7 340.0 310.4 340.5 309.8 341.0 310.5 341.5 311.1 342.0 313.9 342.5 313.9 343.0 312.1 343.5 314.6 344.0 315.4 344.5 314.9 345.0 313.5 345.5 311.0 346.0 310.7 346.5 313.2 347.0 312.1 347.5 310.6 348.0 311.5 348.5 312.1 349.0 312.9 349.5 313.3 350.0 314.5 350.5 312.2 351.0 313.0 351.5 310.8 352.0 311.5 352.5 311.2 353.0 311.0 353.5 312.1 354.0 311.6 354.5 312.7 355.0 313.2 355.5 312.7 356.0 311.5 356.5 310.5 356.9 310.2 357.4 310.5 357.9 310.9 358.4 315.0 358.9 314.8 359.4 314.9 359.9 312.9 360.4 311.9 360.9 311.6 361.4 312.0 361.9 310.7 362.4 313.1 362.9 311.9 363.4 313.2 363.9 309.8 364.4 310.4 364.9 311.2 365.4 311.5 365.9 312.2 366.5 312.2 367.0 312.1 367.5 309.5 368.0 309.2 368.5 307.0 369.0 309.2 369.5 310.2 370.0 310.2 370.5 309.4 371.0 309.2 371.5 311.9 372.0 314.4 372.5 313.5 373.0 315.0 373.5 312.0 373.9 309.6 374.4 310.3 374.9 310.3 375.4 310.9 375.9 312.5 376.4 317.7 376.9 315.9 377.4 315.9 377.8 316.4 378.3 316.3 378.8 317.8 379.3 320.1 379.8 317.4 380.3 316.9 380.8 315.8 381.3 315.8 381.8 312.7 382.3 310.2 382.8 307.5 383.3 310.0 383.8 310.9 384.3 311.1 384.8 307.3 385.4 307.7 385.9 307.2 386.4 305.7 386.9 305.3 387.4 307.4 387.9 308.3 388.4 307.9 388.9 308.2 389.4 306.5 389.9 306.3 390.4 305.9 390.9 306.3 391.4 305.9 391.9 305.5 392.4 305.3 392.9 304.4 393.4 307.6 393.9 307.4 394.4 307.2 394.9 309.4 395.4 309.7 395.9 306.1 396.4 306.6 397.0 307.1 397.5 308.8 398.0 309.2 398.5 308.7 399.0 305.8 399.5 304.3 400.0 304.8 400.5 305.5 401.0 303.9 401.5 303.7 402.0 303.5 402.5 303.2 403.0 303.2 403.5 302.0 404.0 299.5 404.4 301.3 404.9 302.8 405.4 300.9 405.9 301.1 406.4 300.1 406.9 299.5 407.4 298.5 407.9 295.8 408.3 295.7 408.8 296.1 409.3 293.2 409.8 295.3 410.3 296.6 410.8 297.4 411.3 298.1 411.8 296.6 412.3 294.0 412.8 291.8 413.3 290.0 413.8 290.2 414.3 290.0 414.7 290.9 415.2 287.4 415.7 291.5 416.2 294.1 416.7 292.3 417.2 292.1 417.7 291.6 418.2 290.9 418.7 289.7 419.2 288.6 419.7 286.5 420.2 286.6 420.7 286.1 421.1 286.2 421.6 284.1 422.1 284.0 422.6 283.8 423.1 284.3 423.6 281.8 424.1 282.3 424.6 283.4 425.0 283.3 425.5 281.5 426.0 279.9 426.5 279.1 427.0 279.9 427.5 284.9 427.9 284.9 428.4 284.4 428.9 287.0 429.3 289.0 429.8 288.3 430.3 287.0 430.8 286.9 431.4 288.0 431.9 285.4 432.4 283.8 432.9 285.0 433.4 282.7 433.9 283.3 434.4 283.8 435.0 283.1 435.5 281.0 436.0 281.0 436.5 280.2 437.0 280.5 437.5 278.6 438.1 280.1 438.6 276.5 439.1 276.3 439.6 276.1 440.1 277.3 440.6 275.3 441.1 275.6 441.6 273.8 442.2 274.4 442.7 276.1 443.2 273.6 443.7 273.0 444.2 271.3 444.7 273.5 445.2 275.4 445.7 274.9 446.1 272.8 446.6 274.1 447.1 276.3 447.6 277.8 448.1 278.4 448.6 274.7 449.1 274.3 449.6 277.6 450.0 275.6 450.5 278.3 451.0 281.4 451.5 281.7 452.0 282.7 452.5 280.9 453.0 278.6 453.5 278.6 454.0 278.5 454.4 278.7 454.9 279.8 455.4 279.4 455.9 279.7 456.4 280.2 456.9 280.0 457.4 282.2 457.9 281.9 458.3 281.3 458.8 280.6 459.3 279.7 459.8 281.5 460.3 281.3 460.8 279.1 461.3 278.4 461.8 278.5 462.4 278.0 462.9 279.8 463.4 277.7 463.9 278.6 464.4 278.7 464.9 276.7 465.5 277.1 466.0 277.1 466.5 277.9 467.0 277.0 467.5 277.5 468.0 275.1 468.5 274.3 469.1 276.3 469.6 278.0 470.1 277.6 470.6 276.5 471.1 278.1 471.6 274.6 472.1 274.2 472.7 275.9 473.2 277.0 473.7 275.3 474.2 273.0 474.7 276.4 475.2 276.9 475.7 275.8 476.2 276.5 476.7 278.2 477.2 274.5 477.7 277.3 478.2 278.7 478.7 275.8 479.2 277.9 479.7 275.8 480.2 278.1 480.7 278.6 481.2 281.2 481.7 279.4 482.2 278.9 482.7 279.9 483.2 278.4 483.7 277.3 484.2 277.0 484.7 277.2 485.3 276.0 485.8 277.1 486.3 277.9 486.8 277.8 487.3 279.7 487.8 278.4 488.3 279.6 488.8 278.0 489.3 278.6 489.8 275.6 490.3 276.3 490.8 274.8 491.3 272.7 491.8 270.7 492.3 269.4 492.8 267.3 493.3 262.6 493.8 262.2 494.3 261.6 494.8 260.7 495.3 258.6 495.8 258.6 496.3 259.9 496.8 258.3 497.3 256.2 497.8 258.1 498.3 258.0 498.8 257.4 499.3 257.0 499.8 252.9 500.3 250.1 500.8 250.8 501.3 246.6 501.8 244.3 502.3 243.5 502.7 242.3 503.2 239.5 503.7 240.1 504.2 237.0 504.7 236.7 505.2 236.7 505.7 235.2 506.2 234.1 506.6 226.3 507.1 219.9 507.6 217.5 508.1 218.9 508.5 222.6 509.0 215.0 509.5 213.0 510.0 206.4 510.6 201.2 511.1 198.2 511.6 198.3 512.1 195.4 512.6 191.5 513.1 178.4 513.7 173.9 514.2 168.3 514.7 158.8 515.2 164.6 515.7 166.4 516.1 167.6 516.6 172.7 517.1 177.1 517.5 194.5 518.0 195.5 518.5 205.7 519.0 206.0 519.5 207.3 520.0 210.1 520.5 209.2 520.9 213.5 521.4 215.9 521.9 213.9 522.4 218.5 522.9 221.0 523.4 222.8 523.8 227.2 524.3 225.7 524.8 227.4 525.2 229.5 525.7 227.3 526.2 231.4 526.7 230.6 527.2 232.6 527.8 242.4 528.3 244.9 528.8 251.9 529.3 249.2 529.8 250.4 530.4 248.6 530.9 249.9 531.4 246.8 531.9 247.5 532.4 244.9 532.8 243.5 533.3 241.3 533.8 239.8 534.2 233.4 534.7 224.6 535.2 226.2 535.7 224.3 536.2 223.5 536.7 224.4 537.2 218.4 537.6 216.8 538.1 215.3 538.6 212.6 539.1 213.4 539.6 213.9 540.0 213.0 540.5 212.1 541.0 214.0 541.5 212.9 542.0 213.9 542.4 214.2 542.9 210.8 543.4 210.0 543.9 214.2 544.5 218.9 545.0 224.4 545.5 228.8 546.0 231.1 546.5 230.4 547.0 230.9 547.5 233.8 548.0 233.9 548.5 237.3 549.0 234.3 549.5 237.6 550.0 238.5 550.4 235.6 550.9 240.6 551.4 242.9 551.9 244.2 552.4 245.3 552.9 249.1 553.5 258.1 554.0 259.3 554.5 254.5 555.0 252.0 555.5 248.2 556.0 247.9 556.5 245.7 557.0 241.6 557.5 241.3 558.0 243.7 558.6 240.9 559.1 244.0 559.6 241.6 560.1 238.9 560.6 239.6 561.2 239.3 561.7 236.2 562.2 236.5 562.7 234.1 563.2 235.0 563.7 240.5 564.2 241.7 564.8 240.8 565.3 244.7 565.8 248.6 566.3 249.7 566.8 247.3 567.3 249.3 567.8 250.3 568.3 251.3 568.8 253.6 569.3 251.2 569.8 249.0 570.4 248.1 570.9 249.4 571.4 246.2 571.9 247.9 572.4 241.6 572.9 243.5 573.4 242.5 574.0 243.4 574.5 244.1 575.0 241.8 575.5 241.7 576.0 242.0 576.6 242.5 577.1 240.6 577.6 239.1 578.1 237.0 578.6 241.8 579.1 241.1 579.6 240.6 580.2 238.5 580.7 240.4 581.2 239.6 581.7 241.8 582.2 242.4 582.7 241.6 583.2 242.2 583.7 240.4 584.2 240.2 584.8 239.9 585.3 238.8 585.8 239.9 586.3 240.4 586.8 242.8 587.3 238.4 587.8 238.9 588.3 239.1 588.9 239.8 589.4 241.5 589.9 242.6 590.4 242.9 590.9 242.6 591.4 244.0 591.9 244.9 592.5 242.3 593.0 243.1 593.5 242.1 594.0 241.9 594.5 243.8 595.0 245.1 595.5 246.2 596.0 245.5 596.6 246.2 597.1 245.8 597.6 247.5 598.1 249.3 598.6 253.3 599.1 255.5 599.7 253.7 600.2 253.6 600.7 253.0 601.2 255.2 601.7 260.0 602.3 261.3 602.8 257.4 603.3 257.0 603.8 256.1 604.3 257.8 604.8 258.1 605.4 258.7 605.9 260.9 606.4 258.7 606.9 257.1 607.4 259.8 607.9 259.3 608.4 257.2 608.9 254.1 609.5 252.6 610.0 250.3 610.5 252.1 611.0 253.2 611.5 255.8 612.0 255.9 612.5 255.2 613.1 254.9 613.6 258.7 614.1 255.7 614.6 256.8 615.1 257.5 615.6 258.8 616.1 258.3 616.6 259.4 617.2 260.7 617.7 260.2 618.2 259.5 618.7 259.6 619.2 258.6 619.7 259.1 620.2 259.3 620.7 260.3 621.2 262.5 621.8 264.0 622.3 262.6 622.8 263.3 623.3 263.3 623.8 264.1 624.3 263.6 624.8 263.7 625.3 262.9 625.8 261.9 626.4 263.7 626.9 265.5 627.4 265.9 627.9 265.9 628.4 265.7 628.9 264.7 629.4 261.3 629.9 262.7 630.4 262.7 631.0 261.4 631.5 259.8 632.0 262.0 632.5 258.5 633.0 261.6 633.5 261.7 634.0 264.3 634.5 261.1 635.1 259.8 635.6 258.1 636.1 257.9 636.6 257.0 637.1 256.2 637.6 257.9 638.1 256.7 638.5 256.3 639.0 257.4 639.5 256.8 640.0 256.5 640.5 257.4 641.0 257.0 641.5 255.5 642.0 256.2 642.5 256.4 643.0 259.4 643.5 257.3 644.0 258.9 644.5 257.5 645.0 257.3 645.5 257.1 646.0 257.9 646.5 259.3 647.0 261.4 647.5 259.5 648.0 261.0 648.5 261.9 649.0 262.4 649.5 260.6 650.0 261.9 650.5 261.5 651.0 262.0 651.5 261.6 652.0 262.8 652.5 264.3 653.1 265.5 653.6 264.5 654.1 265.7 654.6 267.3 655.1 265.0 655.6 267.1 656.1 264.6 656.6 265.8 657.1 266.8 657.6 268.0 658.1 266.6 658.6 264.1 659.1 261.7 659.6 259.1 660.1 260.5 660.5 259.5 661.0 257.8 661.5 258.4 662.0 256.5 662.5 255.5 663.0 254.5 663.5 257.1 664.0 258.2 664.5 257.1 665.0 254.6 665.5 255.5 666.0 255.9 666.5 256.7 666.9 257.5 667.4 257.0 667.9 258.4 668.4 259.3 668.9 259.2 669.4 258.4 669.9 257.9 670.4 259.2 670.9 257.7 671.4 258.2 671.8 257.8 672.3 256.7 672.8 258.8 673.3 259.4 673.8 260.0 674.3 261.6 674.8 259.5 675.3 260.5 675.8 261.9 676.3 263.8 676.8 262.3 677.4 264.2 677.9 264.9 678.4 267.3 678.9 268.7 679.4 268.9 679.9 271.7 680.4 270.3 680.9 269.0 681.4 268.4 682.0 267.2 682.5 268.1 683.0 265.9 683.5 267.5 684.0 269.5 684.5 271.9 685.0 271.6 685.5 274.5 686.0 273.3 686.5 273.5 687.0 271.1 687.5 271.6 688.0 272.0 688.5 276.2 689.0 277.6 689.5 276.1 690.0 278.0 690.5 279.2 691.0 279.1 691.5 279.6 692.0 279.6 692.5 279.3 693.0 277.4 693.5 279.0 694.0 282.4 694.5 285.1 695.0 284.2 695.5 283.1 696.0 283.5 696.5 285.6 697.0 285.7 697.5 284.6 698.0 285.1 698.5 284.7 699.0 285.4 699.5 284.7 700.0 282.9 700.5 283.7 701.0 285.1 701.5 283.7 702.0 284.0 702.5 285.7 703.0 285.2 703.5 284.5 704.0 287.8 704.5 288.3 705.0 289.0 705.5 286.9 706.0 289.0 706.5 286.0 707.0 285.7 707.5 287.2 708.0 289.1 708.5 287.3 709.0 284.3 709.5 283.6 710.1 278.1 710.6 279.4 711.1 279.5 711.6 276.8 712.1 276.6 712.7 276.5 713.2 274.8 713.7 273.6 714.2 274.4 714.7 270.5 715.2 268.8 715.7 265.8 716.2 266.5 716.8 263.6 717.3 263.0 717.8 261.5 718.3 259.9 718.8 261.6 719.3 260.9 719.8 263.1 720.3 263.9 720.8 265.5 721.3 264.6 721.9 265.9 722.4 266.8 722.9 265.7 723.4 266.5 723.9 266.8 724.5 269.4 725.0 275.9 725.6 275.3 726.1 272.5 726.6 270.5 727.1 270.9 727.6 270.7 728.1 271.4 728.6 272.5 729.1 274.7 729.5 274.1 730.0 273.8 730.5 271.8 731.0 272.2 731.5 273.5 732.0 274.1 732.5 270.0 733.0 271.0 733.5 272.7 734.0 272.8 734.5 269.8 735.0 269.4 735.5 270.3 735.9 270.6 736.4 269.2 736.9 268.1 737.4 269.9 737.9 268.0 738.4 270.3 738.9 270.0 739.4 270.1 739.9 268.1 740.3 267.7 740.8 269.1 741.3 267.2 741.8 270.5 742.3 268.1 742.8 266.8 743.3 267.3 743.8 268.2 744.3 268.9 744.9 267.9 745.4 267.4 745.9 266.9 746.4 266.1 746.9 263.0 747.4 265.2 747.9 265.7 748.5 265.8 749.0 264.8 749.5 265.2 750.0 265.0 750.5 265.0 751.0 266.5 751.5 264.0 752.0 264.9 752.5 263.8 753.0 264.1 753.5 266.5 754.0 264.9 754.5 265.1 755.0 264.7 755.5 266.3 756.0 265.0 756.5 263.3 757.0 263.7 757.5 261.9 758.0 260.3 758.5 261.2 759.0 257.9 759.5 256.1 760.0 255.3 760.5 254.8 761.0 252.3 761.5 252.9 762.0 254.9 762.5 251.0 763.0 252.0 763.5 246.0 764.0 248.4 764.5 246.5 765.1 246.1 765.6 244.7 766.1 243.2 766.6 240.8 767.1 240.7 767.6 243.6 768.1 245.1 768.7 243.1 769.2 241.4 769.7 239.7 770.2 237.6 770.7 246.5 771.2 249.2 771.7 249.9 772.1 249.0 772.6 247.4 773.1 254.6 773.6 258.2 774.1 254.3 774.6 255.1 775.1 251.5 775.6 252.1 776.0 249.4 776.5 248.4 777.0 249.1 777.5 249.1 778.0 250.0 778.5 247.3 779.0 249.0 779.5 249.6 780.0 247.6 780.5 246.9 781.0 244.2 781.4 243.2 781.9 240.6 782.4 240.8 782.9 240.9 783.4 242.6 783.9 242.8 784.4 242.0 784.9 236.9 785.4 233.1 785.9 229.4 786.5 228.0 787.0 219.2 787.5 221.4 788.0 214.3 788.5 212.3 789.0 211.9 789.5 212.6 790.0 216.6 790.5 216.5 791.0 219.1 791.5 220.3 792.0 218.6 792.5 218.9 793.0 220.7 793.6 219.3 794.1 219.2 794.6 218.2 795.1 218.6 795.6 218.4 796.1 218.9 796.6 220.9 797.1 222.8 797.6 222.2 798.1 221.6 798.6 222.1 799.1 220.9 799.6 219.2 800.1 220.8 800.6 219.2 801.0 220.6 801.5 219.0 802.0 221.6 802.5 219.5 803.0 220.6 803.5 222.2 804.0 220.0 804.5 221.4 805.0 219.1 805.5 216.1 805.9 217.4 806.4 218.0 806.9 217.1 807.4 213.1 807.9 213.8 808.4 213.7 808.9 213.4 809.4 213.2 809.8 210.8 810.3 210.8 810.8 213.9 811.3 215.4 811.8 211.4 812.3 207.2 812.8 206.4 813.2 206.9 813.7 205.6 814.2 199.1 814.7 197.5 815.2 195.7 815.7 197.0 816.2 196.5 816.6 193.6 817.1 192.8 817.6 187.4 818.1 188.0 818.6 188.4 819.1 192.6 819.6 198.3 820.0 197.6 820.5 199.2 821.0 198.3 821.5 205.0 822.0 210.0 822.5 211.8 823.0 215.5 823.5 212.3 824.0 215.7 824.5 218.8 825.0 220.5 825.5 221.2 826.0 222.8 826.5 219.4 827.0 215.8 827.5 213.5 828.0 212.8 828.5 212.7 829.0 209.5 829.5 210.3 830.0 206.6 830.5 207.1 831.0 206.2 831.5 205.1 832.0 207.0 832.5 204.0 833.0 202.1 833.5 202.0 834.1 202.5 834.6 197.9 835.1 198.1 835.6 195.9 836.1 197.1 836.6 199.3 837.2 197.7 837.7 196.0 838.2 195.4 838.7 188.0 839.2 189.0 839.7 188.7 840.2 187.3" stroke="#00b050"/><path d="M86.2 142.5 86.9 163.0 87.5 162.5 88.0 163.3 88.6 166.5 89.2 160.0 89.7 158.8 90.3 142.5 90.8 138.8 91.3 137.5 91.8 134.3 92.2 125.0 92.7 121.0 93.2 123.6 93.7 115.1 94.2 109.8 94.7 104.7 95.2 101.9 95.6 102.6 96.1 101.7 96.6 91.2 97.1 94.5 97.6 92.1 98.1 90.2 98.6 93.5 99.1 91.6 99.6 87.6 100.1 85.9 100.6 84.3 101.2 76.3 101.7 71.5 102.3 70.6 102.8 67.0 103.3 56.9 103.8 70.6 104.3 67.4 104.7 70.0 105.2 72.4 105.7 77.4 106.2 79.3 106.7 84.7 107.2 95.4 107.6 96.9 108.1 95.2 108.6 100.4 109.1 101.4 109.7 104.6 110.2 109.8 110.8 115.1 111.3 111.3 111.8 111.4 112.2 107.3 112.7 100.2 113.2 101.4 113.7 99.0 114.2 101.5 114.7 97.5 115.2 97.9 115.7 97.0 116.2 87.5 116.7 84.3 117.2 88.0 117.8 100.7 118.3 99.2 118.9 109.6 119.4 118.5 119.9 121.3 120.4 124.5 120.9 124.0 121.3 125.9 121.8 128.7 122.3 131.9 122.8 135.6 123.3 138.1 123.8 139.6 124.3 142.6 124.7 149.2 125.2 148.3 125.7 150.5 126.2 156.2 126.6 163.1 127.1 170.9 127.5 170.0 128.0 173.6 128.5 176.4 129.0 182.0 129.6 180.3 130.1 186.6 130.7 195.0" stroke="#ff0000"/><path d="M138.9 201.0 139.4 204.3 139.9 209.5 140.4 212.9 140.9 211.9 141.4 216.6 142.0 218.7 142.5 220.4 143.0 222.4 143.6 217.6 144.1 213.2 144.6 210.6 145.2 207.1 145.7 208.6 146.2 213.3 146.8 221.2 147.3 224.1 147.9 223.6 148.4 229.5 148.9 229.5 149.5 231.2 150.0 234.3 150.5 238.8 151.1 247.2 151.6 247.8 152.1 252.9 152.7 256.3 153.2 255.7 153.8 248.5 154.3 245.3 154.8 243.7 155.4 240.7 155.9 245.4 156.5 248.4 157.0 250.2 157.5 255.0 158.1 255.3 158.6 255.7 159.1 262.6 159.6 265.4 160.1 265.4 160.5 264.3 161.0 263.4 161.5 263.4 162.0 261.1 162.4 259.9 162.9 255.7 163.4 256.8 163.9 255.4 164.4 256.2 165.0 251.0 165.5 250.4 166.0 251.4 166.5 248.6 166.9 250.8 167.4 253.4 167.9 255.3 168.4 253.8 168.8 256.2 169.3 257.9 169.8 253.4 170.4 254.0 170.9 251.5 171.4 249.2 172.0 245.6 172.5 245.0 173.0 243.0 173.6 243.4 174.1 241.4 174.6 236.9 175.2 234.1 175.7 234.3 176.2 234.1 176.7 235.6 177.1 237.2 177.6 237.4 178.1 234.4 178.6 236.9 179.0 239.1 179.5 240.7 180.0 240.7 180.5 242.8 180.9 238.7 181.4 233.5 181.9 229.0 182.3 228.7 182.8 222.8 183.3 221.7 183.8 225.5 184.3 226.5 184.8 226.5 185.3 226.6 185.8 225.1 186.3 220.2 186.8 221.2 187.4 221.7 187.9 220.4 188.4 215.4 188.9 216.9 189.4 217.7 189.9 215.0 190.4 213.8 190.9 213.8 191.4 212.1 191.9 212.0 192.4 208.6 192.9 207.0 193.4 203.7 193.9 196.9 194.3 192.8 194.8 199.3 195.3 195.7 195.8 195.1 196.3 193.4 196.8 192.8 197.3 190.7 197.9 186.5 198.4 185.0 198.9 179.4 199.5 179.6 200.0 182.1 200.5 178.1 201.1 185.1 201.6 193.1 202.1 201.4 202.7 203.2 203.2 207.5 203.8 208.6 204.3 214.3 204.8 216.1 205.4 219.7 205.9 214.7 206.4 215.9 206.9 214.0 207.4 210.2 208.0 212.5 208.5 203.5 209.0 202.7 209.5 202.1 209.9 204.5 210.4 205.0 210.9 205.6 211.4 201.9 211.8 200.4 212.3 199.6 212.8 197.1 213.3 195.9 213.8 194.0 214.2 192.2 214.7 189.5 215.2 193.4 215.7 191.5 216.1 187.0 216.6 188.4 217.1 188.6 217.6 189.1 218.1 191.9 218.5 190.7 219.0 189.6 219.5 188.2 220.0 188.3 220.4 187.6 220.9 188.1 221.4 192.8 221.9 191.6 222.5 189.1 223.0 191.3 223.5 191.2 224.1 191.0 224.6 190.7 225.1 194.7 225.6 197.6 226.2 202.9 226.7 205.7 227.2 204.8 227.7 201.6 228.2 200.3 228.7 198.6 229.2 200.0 229.6 200.8 230.1 199.6 230.6 200.4 231.1 204.0 231.6 204.4 232.1 201.4 232.6 200.4 233.1 200.8 233.6 199.9 234.1 199.9 234.6 200.9 235.0 200.2 235.5 197.5 236.0 198.4 236.5 197.6 237.0 197.3 237.5 196.0 238.0 194.7 238.5 195.0 238.9 198.5 239.4 199.7 239.9 196.6 240.4 206.2 240.9 206.9 241.4 209.3 241.8 215.2 242.3 211.7 242.8 220.7 243.3 220.6 243.8 223.4 244.3 223.4 244.8 225.1 245.3 226.1 245.8 226.8 246.2 224.2 246.7 223.4 247.2 225.7 247.7 230.1 248.2 229.7 248.7 231.7 249.2 232.5 249.7 232.5 250.2 233.4 250.6 228.4 251.1 228.6 251.6 227.6 252.1 226.3 252.5 224.1 253.0 222.5 253.5 220.7 254.0 220.8 254.5 225.0 255.0 226.8 255.5 225.9 256.0 226.1 256.5 224.2 257.0 220.8 257.5 219.6 258.1 221.1 258.6 223.6 259.1 223.4 259.6 222.1 260.1 222.1 260.6 221.1 261.1 220.0 261.6 220.6 262.1 220.7 262.6 218.1 263.1 215.7 263.7 213.6 264.2 214.3 264.7 216.5 265.2 212.8 265.6 216.1 266.1 207.1 266.6 205.5 267.1 199.8 267.5 197.9 268.0 196.5 268.5 196.0 269.0 200.0 269.5 199.4 269.9 197.9 270.4 200.0 270.9 203.1 271.4 203.4 271.8 207.8 272.3 213.1 272.8 210.0 273.3 211.2 273.8 213.2 274.3 209.8 274.8 211.3 275.3 211.7 275.8 210.1 276.2 213.8 276.7 214.5 277.2 214.0 277.7 215.3 278.2 216.6 278.7 217.9 279.2 218.5 279.7 217.7 280.2 214.4 280.7 213.2 281.2 213.2 281.7 208.1 282.3 212.7 282.8 211.4 283.3 209.1 283.8 206.2 284.3 207.5 284.8 207.7 285.3 206.6 285.8 206.0 286.3 204.6 286.8 203.7 287.4 203.9 287.9 203.0 288.4 204.3 288.9 203.6 289.4 203.4 289.9 203.5 290.4 206.3 290.9 207.2 291.4 207.5 291.9 207.3 292.4 206.4 292.9 206.9 293.4 209.2 293.9 210.3 294.5 210.2 295.0 208.8 295.5 207.9 296.0 210.7 296.5 214.0 297.0 215.4 297.5 213.6 298.0 214.7 298.5 216.4 299.0 215.5 299.6 216.5 300.1 216.4 300.6 215.6 301.1 214.6 301.7 216.4 302.2 217.1 302.7 216.2 303.2 215.6 303.7 218.0 304.2 219.3 304.7 219.0 305.2 221.7 305.7 220.8 306.2 219.4 306.6 221.6 307.1 221.4 307.6 222.1 308.1 222.3 308.6 221.1 309.1 220.2 309.6 221.1 310.1 224.1 310.6 222.8 311.1 226.3 311.6 227.0 312.1 225.6 312.6 227.3 313.1 229.2 313.5 228.4 314.0 226.2 314.5 229.1 315.0 229.0 315.5 231.7 316.0 230.0 316.5 231.2 317.0 230.9 317.5 229.7 318.0 230.8 318.5 232.1 319.0 231.8 319.5 230.7 320.0 232.1 320.5 230.0 321.0 232.1 321.5 233.4 322.0 236.0 322.5 237.0 323.0 237.1 323.5 237.2 324.0 237.0 324.5 235.1 325.0 238.2 325.5 239.0 325.9 238.5 326.4 237.0 326.9 240.3 327.4 241.1 327.9 239.2 328.4 241.0 328.9 244.2 329.4 243.5 329.9 243.9 330.4 241.9 330.9 240.0 331.4 241.3 331.9 245.0 332.4 242.5 333.0 240.3 333.5 240.1 334.0 238.0 334.5 238.1 335.0 238.0 335.5 235.3 336.0 233.4 336.5 233.6 337.0 235.0 337.5 235.1 338.0 236.5 338.5 233.3 339.0 234.0 339.5 232.7 340.0 232.9 340.5 233.2 341.0 231.4 341.5 231.5 342.0 230.4 342.5 231.4 343.0 230.7 343.4 230.6 343.9 231.4 344.4 230.8 344.9 232.6 345.4 231.6 345.9 232.7 346.4 232.7 346.9 231.1 347.3 231.0 347.8 230.1 348.3 230.1 348.8 230.2 349.3 232.8 349.8 232.2 350.3 234.7 350.9 234.9 351.4 232.8 351.9 230.1 352.4 232.8 353.0 230.9 353.5 233.6 354.0 236.0 354.5 237.2 355.0 237.4 355.5 237.7 356.0 238.9 356.5 239.2 357.0 239.3 357.4 239.9 357.9 242.9 358.4 242.4 358.9 243.9 359.4 242.8 359.9 243.1 360.4 242.5 360.9 243.3 361.4 244.9 361.9 245.4 362.4 244.6 362.9 245.6 363.4 244.8 363.9 245.2 364.4 245.3 364.9 245.7 365.5 241.9 366.0 240.9 366.5 243.0 367.0 243.1 367.5 246.3 368.0 245.0 368.5 243.7 369.0 245.5 369.5 245.4 370.0 247.0 370.5 246.7 371.0 245.6 371.5 246.3 372.0 244.8 372.4 244.4 372.9 244.1 373.4 244.5 373.9 246.2 374.4 245.7 374.9 246.6 375.4 246.2 375.9 247.9 376.4 244.2 376.9 245.4 377.4 246.8 377.8 246.1 378.3 248.6 378.8 249.3 379.3 251.2 379.8 252.2 380.3 251.4 380.8 248.9 381.4 244.9 381.9 243.7 382.4 242.0 382.9 241.8 383.4 239.9 384.0 245.2 384.5 239.0 385.0 240.0 385.5 238.1 386.0 237.1 386.5 238.2 387.0 237.4 387.5 234.8 387.9 235.6 388.4 235.1 388.9 231.7 389.4 232.9 389.9 231.7 390.4 231.2 390.9 232.8 391.4 233.9 391.9 233.8 392.4 237.1 392.9 237.1 393.4 235.7 393.9 236.0 394.4 235.9 395.0 233.1 395.5 232.2 396.0 231.9 396.5 236.4 397.0 236.4 397.5 236.3 398.0 236.0 398.5 237.5 399.0 237.3 399.5 239.2 400.0 239.3 400.5 240.3 401.0 238.8 401.5 238.4 402.0 237.1 402.5 236.5 403.1 234.2 403.6 234.1 404.1 233.5 404.6 233.5 405.1 235.8 405.6 236.0 406.1 237.4 406.6 237.7 407.1 238.0 407.6 238.3 408.1 237.3 408.6 240.4 409.1 240.4 409.6 240.3 410.2 244.8 410.7 250.5 411.2 247.4 411.7 252.2 412.2 251.5 412.7 248.5 413.2 248.1 413.6 248.0 414.1 248.0 414.6 246.8 415.1 244.6 415.6 245.1 416.1 246.6 416.5 247.5 417.0 247.8 417.5 248.6 418.0 246.0 418.5 245.5 419.0 245.6 419.6 246.5 420.1 245.8 420.6 245.8 421.1 245.1 421.6 247.4 422.1 242.6 422.6 242.5 423.2 245.9 423.7 244.9 424.2 241.1 424.7 241.6 425.2 240.0 425.7 239.9 426.2 240.9 426.7 243.3 427.2 243.4 427.7 243.6 428.2 244.2 428.7 243.6 429.2 242.0 429.8 241.8 430.3 242.2 430.8 241.7 431.3 240.9 431.8 240.7 432.3 239.2 432.8 238.8 433.3 239.7 433.8 239.9 434.3 240.5 434.8 242.5 435.3 242.5 435.8 242.6 436.3 241.2 436.8 240.6 437.3 242.6 437.8 242.2 438.3 244.1 438.8 243.3 439.3 244.7 439.7 245.6 440.2 247.9 440.7 247.5 441.2 247.5 441.7 248.6 442.2 249.2 442.7 252.3 443.2 251.5 443.7 250.8 444.2 250.3 444.7 250.8 445.2 250.8 445.7 251.3 446.1 249.1 446.6 252.2 447.1 253.4 447.6 251.9 448.1 249.5 448.6 249.5 449.1 249.8 449.6 246.7 450.0 247.4 450.5 246.0 451.0 247.3 451.5 249.2 452.0 250.0 452.5 247.6 453.0 249.5 453.5 250.1 454.0 249.1 454.5 249.4 455.0 250.8 455.5 249.6 456.0 249.2 456.5 248.3 457.0 249.7 457.6 246.8 458.1 249.0 458.6 247.7 459.1 249.1 459.6 247.0 460.1 246.5 460.6 246.5 461.1 248.3 461.6 246.5 462.1 248.0 462.6 247.5 463.1 249.4 463.6 248.2 464.1 248.5 464.6 247.6 465.1 249.8 465.5 247.8 466.0 246.8 466.5 249.2 467.0 247.5 467.5 247.3 468.0 244.7 468.5 244.4 469.0 240.2 469.4 240.9 469.9 240.1 470.4 238.1 470.9 236.7 471.4 239.7 471.9 240.5 472.4 238.6 472.9 241.4 473.4 240.1 473.9 239.6 474.4 240.0 474.9 238.5 475.4 236.9 475.9 236.9 476.4 239.1 476.9 240.3 477.4 236.8 477.9 238.8 478.4 238.1 478.9 238.2 479.5 237.4 480.0 237.3 480.5 234.8 481.0 233.1 481.5 232.2 482.0 232.0 482.5 232.9 483.0 228.7 483.4 232.2 483.9 228.7 484.4 226.1 484.9 227.0 485.4 226.5 485.9 223.9 486.3 220.1 486.8 217.3 487.3 213.6 487.8 215.4 488.4 215.6 488.9 216.2 489.4 213.2 489.9 210.1 490.5 207.9 491.0 206.0 491.5 203.3 492.0 202.5 492.5 205.7 493.0 199.1 493.5 195.1 494.0 193.2 494.5 195.5 495.0 197.0 495.5 195.2 496.0 195.4 496.5 194.2 497.0 193.6 497.5 191.6 498.0 190.9 498.5 190.2 499.0 191.3 499.5 193.6 500.0 188.2 500.5 187.3 501.0 184.4 501.5 184.4 502.0 183.8 502.5 181.8 503.0 179.8 503.5 172.8 504.0 165.4 504.5 169.0 505.0 169.3 505.5 162.7 506.0 163.1 506.5 159.8 507.0 145.5 507.6 146.5 508.1 139.2 508.6 140.5 509.1 133.6 509.6 132.1 510.1 129.6 510.6 129.7 511.2 131.3 511.7 129.6 512.2 126.4 512.7 130.0 513.2 131.9 513.8 127.7 514.3 119.3 514.8 110.0 515.3 101.0 515.9 101.4 516.4 102.7 516.9 102.0 517.4 106.6 517.9 109.9 518.5 113.6 519.0 119.9 519.5 130.9 520.0 130.0 520.5 137.2 521.0 144.5 521.5 146.3 522.1 149.8 522.6 149.7 523.1 159.9 523.6 162.7 524.1 166.8 524.7 174.1 525.2 177.7 525.7 181.5 526.2 188.7 526.8 201.7 527.3 206.4 527.8 205.5 528.3 197.5 528.8 189.9 529.4 196.3 529.9 192.4 530.4 185.3 530.9 184.5 531.4 186.0 531.9 182.8 532.4 181.8 532.9 182.7 533.4 181.0 533.9 182.4 534.4 183.2 534.9 182.5 535.4 180.4 535.9 179.3 536.4 177.3 536.9 178.6 537.4 180.8 537.9 181.3 538.4 184.8 538.9 190.8 539.3 188.6 539.8 189.5 540.3 191.4 540.8 192.8 541.3 192.2 541.8 191.8 542.3 192.3 542.9 191.1 543.5 189.6 544.0 185.0 544.5 191.5 544.9 197.8 545.4 200.0 545.9 205.8 546.4 216.5 546.8 210.8 547.3 217.3 547.8 214.0 548.3 211.4 548.8 211.7 549.3 213.2 549.8 213.1 550.2 210.7 550.7 208.5 551.2 208.6 551.7 209.5 552.2 208.5 552.7 206.4 553.2 210.8 553.6 209.7 554.1 210.0 554.6 209.6 555.1 209.3 555.5 210.0 556.0 210.0 556.5 209.8 557.0 205.1 557.5 200.8 558.0 204.5 558.5 202.0 559.0 201.4 559.5 201.2 560.0 199.1 560.5 199.6 561.0 197.5 561.5 196.6 562.0 201.5 562.5 204.8 563.0 207.2 563.5 205.2 564.0 203.6 564.5 205.2 565.0 206.6 565.5 210.6 566.0 211.6 566.5 214.8 567.0 213.4 567.5 212.3 568.0 213.5 568.5 213.3 569.0 211.1 569.5 212.0 570.0 214.1 570.5 210.4 571.0 209.3 571.5 207.1 572.0 204.1 572.5 205.9 573.0 206.9 573.5 207.7 574.0 207.2 574.5 203.0 575.0 203.5 575.5 202.9 576.0 201.9 576.5 201.2 577.0 203.0 577.4 202.8 577.9 205.3 578.4 205.1 578.9 202.0 579.4 203.3 579.9 204.5 580.4 203.7 580.9 201.7 581.4 203.9 581.9 201.5 582.3 201.3 582.8 199.0 583.3 198.1 583.8 197.0 584.3 199.6 584.8 201.3 585.3 200.7 585.8 199.2 586.3 199.8 586.8 200.8 587.3 199.1 587.8 198.5 588.2 199.5 588.7 201.2 589.2 201.5 589.7 202.2 590.2 200.6 590.7 198.0 591.2 199.9 591.7 199.6 592.2 199.8 592.7 199.5 593.2 200.3 593.7 198.9 594.1 200.9 594.6 200.0 595.1 200.0 595.6 200.0 596.1 200.4 596.6 199.6 597.1 195.9 597.6 194.9 598.0 197.5 598.5 197.1 599.0 196.8 599.5 196.3 600.0 194.3 600.5 193.2 601.0 192.4 601.5 194.1 602.0 194.2 602.5 195.9 603.0 195.4 603.5 196.7 603.9 195.8 604.4 193.0 604.9 194.8 605.4 194.1 605.9 194.7 606.4 193.8 606.9 192.5 607.4 191.8 607.9 189.2 608.4 187.3 608.9 186.2 609.5 185.8 610.0 184.1 610.5 184.6 611.0 185.2 611.5 187.9 612.0 189.1 612.5 188.9 613.0 190.9 613.5 190.6 613.9 192.0 614.4 192.5 614.9 192.4 615.4 193.9 615.9 192.5 616.4 195.5 616.9 196.5 617.3 196.2 617.8 197.8 618.3 200.9 618.8 201.1 619.3 202.0 619.8 202.6 620.3 204.2 620.8 201.4 621.3 200.8 621.8 201.2 622.3 202.7 622.8 201.8 623.4 201.8 623.9 198.4 624.4 197.4 624.9 199.9 625.4 198.5 625.9 201.1 626.4 198.4 626.9 197.2 627.4 194.3 627.9 195.5 628.4 195.6 628.9 197.9 629.4 196.7 629.9 195.2 630.3 192.5 630.8 192.4 631.3 193.6 631.8 193.9 632.3 194.7 632.8 194.5 633.3 193.0 633.8 192.8 634.3 191.9 634.8 189.1 635.2 191.3 635.7 190.8 636.2 188.3 636.7 188.5 637.2 188.4 637.7 189.1 638.2 190.7 638.6 183.1 639.1 184.8 639.5 187.6 640.0 184.5 640.5 182.6 641.0 184.1 641.5 185.2 642.1 186.1 642.6 184.9 643.1 185.1 643.6 186.1 644.1 187.6 644.7 190.4 645.2 190.0 645.7 188.7 646.2 185.7 646.7 188.0 647.2 187.8 647.8 187.6 648.3 186.2 648.8 187.7 649.3 185.1 649.8 186.1 650.4 186.7 650.9 187.3 651.4 189.1 651.9 187.6 652.4 186.7 653.0 187.4 653.5 183.0 654.0 182.2 654.5 182.2 655.0 183.6 655.5 181.0 656.1 182.1 656.6 181.7 657.1 177.7 657.6 176.2 658.1 175.9 658.6 180.4 659.1 184.1 659.6 188.4 660.1 192.0 660.6 191.4 661.1 193.1 661.6 194.1 662.1 194.3 662.6 194.6 663.1 192.6 663.6 193.6 664.0 192.5 664.5 191.7 665.0 192.5 665.5 193.7 666.0 194.4 666.5 194.6 667.0 194.0 667.5 194.8 668.0 194.0 668.5 192.5 668.9 193.5 669.4 195.8 669.9 194.8 670.4 193.3 670.9 195.4 671.4 197.2 671.9 195.6 672.4 194.6 672.8 194.5 673.3 198.0 673.8 196.4 674.3 196.5 674.8 197.0 675.3 193.7 675.8 193.0 676.2 192.7 676.7 195.7 677.2 197.4 677.7 201.7 678.3 203.3 678.8 207.2 679.4 210.2 679.9 210.1 680.4 213.0 680.9 212.1 681.4 213.2 681.9 213.7 682.4 211.6 682.9 211.9 683.4 210.7 684.0 210.7 684.5 210.7 685.0 210.6 685.5 209.9 686.0 212.2 686.5 211.3 687.0 212.1 687.5 213.9 688.0 213.7 688.5 214.4 689.0 215.6 689.5 216.1 689.9 217.3 690.4 214.3 690.9 216.8 691.4 216.2 691.9 213.6 692.4 213.5 692.9 212.7 693.3 214.0 693.8 213.2 694.3 213.4 694.8 215.4 695.3 217.1 695.8 216.7 696.3 217.8 696.7 219.1 697.2 220.6 697.7 221.6 698.2 222.2 698.7 223.3 699.2 220.5 699.6 220.1 700.1 220.6 700.6 220.0 701.1 219.3 701.6 218.9 702.0 219.4 702.5 221.0 703.0 220.0 703.5 220.3 704.0 221.8 704.5 222.2 705.0 220.1 705.5 222.5 706.0 223.4 706.5 224.0 707.0 226.6 707.5 227.7 708.0 227.7 708.5 225.6 709.0 222.4 709.5 223.3 710.0 223.3 710.5 223.9 711.0 223.4 711.5 221.3 712.0 218.0 712.5 214.0 713.0 213.5 713.5 209.6 713.9 211.9 714.4 206.7 714.9 201.2 715.4 201.7 715.9 199.5 716.4 203.6 716.9 201.3 717.3 201.0 717.8 200.0 718.3 198.0 718.8 194.6 719.3 191.8 719.8 194.3 720.3 195.7 720.7 198.3 721.2 193.2 721.7 193.0 722.2 191.4 722.7 195.7 723.2 195.0 723.7 199.0 724.1 202.8 724.6 205.0 725.1 209.7 725.6 208.5 726.1 209.0 726.6 206.0 727.1 207.4 727.6 201.9 728.1 202.2 728.5 201.2 729.0 201.6 729.5 203.2 730.0 203.8 730.5 203.2 731.0 205.0 731.5 202.2 732.0 201.2 732.5 203.6 733.0 203.8 733.4 200.8 733.9 202.1 734.4 201.0 734.9 203.7 735.4 205.1 735.9 203.9 736.4 205.6 736.9 204.0 737.3 205.2 737.8 205.7 738.3 205.1 738.8 203.2 739.3 203.4 739.8 200.9 740.3 201.5 740.8 200.2 741.4 203.3 741.9 202.6 742.4 200.2 742.9 202.5 743.4 203.8 743.9 203.5 744.5 206.7 745.0 207.0 745.5 206.3 746.0 205.0 746.5 201.1 747.0 202.9 747.5 204.7 748.0 203.8 748.5 202.2 749.0 202.9 749.5 201.2 750.0 202.2 750.5 203.9 751.0 205.9 751.5 205.5 752.0 205.2 752.5 205.7 753.0 206.8 753.5 205.0 754.0 202.5 754.5 201.4 755.0 199.9 755.5 199.3 755.9 200.0 756.4 201.0 756.9 201.2 757.4 201.2 757.9 200.5 758.4 201.0 758.9 202.0 759.4 202.3 759.9 203.4 760.4 201.5 760.8 200.3 761.3 202.1 761.8 201.1 762.3 200.6 762.8 199.2 763.3 200.0 763.8 199.9 764.3 199.1 764.8 200.8 765.3 201.7 765.8 205.1 766.3 205.5 766.8 207.2 767.2 208.1 767.7 210.2 768.2 210.1 768.7 213.9 769.2 211.9 769.7 213.1 770.2 213.7 770.7 215.6 771.2 216.0 771.7 217.0 772.2 216.4 772.8 215.6 773.3 214.5 773.8 214.9 774.3 214.9 774.8 216.2 775.3 217.1 775.8 217.8 776.3 216.0 776.8 213.4 777.4 210.8 777.9 210.7 778.4 210.8 778.9 213.1 779.4 211.3 779.9 212.4 780.5 213.0 781.0 208.1 781.5 208.3 782.0 208.0 782.5 208.4 783.0 205.0 783.5 204.6 784.0 200.4 784.5 198.2 785.0 196.5 785.5 199.2 786.0 195.6 786.5 195.7 787.0 193.1 787.5 189.0 788.0 188.3 788.5 188.3 789.0 184.5 789.5 185.8 790.0 184.8 790.5 184.0 791.0 185.1 791.5 185.3 792.0 184.4 792.5 183.0 792.9 184.5 793.4 185.9 793.9 185.9 794.4 186.8 794.9 185.2 795.4 186.8 795.9 188.0 796.4 188.7 796.9 188.1 797.4 188.7 797.9 189.2 798.4 191.0 798.9 191.1 799.4 191.3 799.9 190.2 800.4 191.7 800.9 193.2 801.4 192.0 801.9 192.9 802.4 193.1 802.9 192.8 803.4 191.1 803.9 194.2 804.4 191.4 804.9 191.8 805.4 190.7 805.9 192.2 806.4 190.4 806.9 189.8 807.4 190.1 808.0 189.8 808.5 187.9 809.0 188.2 809.5 187.8 810.0 188.2 810.5 186.0 811.0 185.0 811.5 183.6 812.0 181.6 812.5 182.0 813.0 182.2 813.5 183.8 814.0 181.8 814.5 181.4 815.1 182.1 815.6 180.3 816.1 179.2 816.6 178.4 817.1 176.2 817.6 174.1 818.1 176.0 818.6 176.5 819.1 176.7 819.6 175.1 820.1 176.3 820.6 178.9 821.1 177.2 821.5 176.6 822.0 179.5 822.5 182.0 823.0 184.0 823.5 182.2 824.0 183.0 824.5 181.6 825.0 182.8 825.5 182.1 826.0 182.4 826.5 184.2 827.0 184.0 827.5 183.1 828.0 183.0 828.5 183.2 829.0 182.4 829.5 182.8 830.0 183.7 830.5 185.5 831.0 181.9 831.5 180.8 832.0 180.0 832.5 181.9 833.0 185.2 833.5 184.0 834.1 183.0 834.6 183.6 835.1 178.8 835.6 178.8 836.1 174.4 836.6 176.1 837.2 176.0 837.7 175.9 838.2 176.8 838.7 176.0 839.2 177.0 839.7 175.4 840.2 174.6" stroke="#ff0000"/><path d="M86.9 278.8 87.4 282.5 87.9 281.0 88.4 281.9 88.8 280.2 89.3 282.1 89.8 283.0 90.3 282.5 90.8 283.5 91.3 285.0 91.8 285.8 92.2 284.6 92.7 283.7 93.2 284.9 93.7 282.2 94.2 281.1 94.7 281.8 95.2 282.3 95.7 284.3 96.2 285.4 96.7 283.9 97.2 283.0 97.7 279.7 98.3 279.1 98.8 279.2 99.3 278.5 99.8 278.3 100.3 278.8 100.8 276.8 101.3 275.9 101.8 273.5 102.3 276.0 102.8 275.1 103.3 273.7 103.8 276.3 104.3 276.8 104.8 278.7 105.4 278.3 105.9 281.5 106.4 281.8 106.9 281.4 107.4 281.1 107.9 280.7 108.4 281.8 108.9 284.3 109.4 282.7 110.0 281.0 110.5 282.2 111.0 283.7 111.5 281.4 112.0 281.0 112.5 280.5 113.0 282.5 113.5 283.8 114.0 283.0 114.5 282.0 115.0 284.2 115.5 281.7 116.0 284.1 116.5 284.7 117.1 288.2 117.6 289.3 118.1 287.8 118.6 287.4 119.1 287.3 119.6 286.7 120.1 287.6 120.6 289.6 121.1 287.4 121.6 287.5 122.1 289.8 122.6 290.3 123.1 288.5 123.6 287.3 124.1 286.4 124.7 284.8 125.2 287.3 125.7 287.5 126.2 286.6 126.7 284.9 127.2 285.2 127.7 285.2 128.2 288.1 128.7 287.0 129.2 287.0 129.7 288.3 130.2 288.5 130.7 287.5 131.2 284.1 131.8 286.6 132.3 287.2 132.8 286.1 133.3 285.8 133.8 284.4 134.3 283.6 134.8 282.2 135.3 284.3 135.8 285.7 136.3 286.2 136.8 287.5 137.3 288.1 137.8 287.9 138.3 286.4 138.8 287.7 139.4 289.4 139.9 289.8 140.4 291.0 140.9 289.4 141.4 287.7 141.9 289.9 142.4 288.7 142.9 289.2 143.4 289.0 143.9 289.2 144.4 289.0 144.9 288.6 145.4 286.8 145.9 290.3 146.4 290.5 146.9 288.0 147.4 287.7 147.9 287.3 148.4 287.6 148.9 285.5 149.4 288.2 149.9 291.3 150.4 291.0 150.9 292.1 151.4 292.7 151.9 290.8 152.4 294.6 152.9 291.8 153.5 292.5 154.0 293.8 154.5 298.3 155.0 299.4 155.5 300.0 156.1 299.5 156.6 301.3 157.1 302.8 157.6 304.2 158.1 306.2 158.6 306.4 159.1 305.5 159.6 304.6 160.2 306.9 160.7 306.2 161.2 305.4 161.7 307.8 162.2 309.0 162.7 308.1 163.2 306.7 163.7 305.1 164.2 306.3 164.7 305.3 165.2 306.4 165.7 304.9 166.2 305.2 166.8 305.8 167.3 305.9 167.8 306.1 168.3 306.5 168.8 304.8 169.3 303.9 169.8 304.5 170.3 307.4 170.8 306.9 171.3 305.7 171.8 305.4 172.3 306.5 172.8 309.1 173.3 308.3 173.8 309.6 174.3 310.1 174.8 309.7 175.2 308.7 175.7 309.4 176.2 309.2 176.7 311.1 177.2 309.0 177.7 312.2 178.2 313.8 178.7 314.8 179.2 316.3 179.7 315.7 180.2 311.5 180.8 311.5 181.3 312.0 181.8 310.3 182.3 308.4 182.8 309.6 183.3 310.5 183.8 309.9 184.3 309.7 184.8 309.2 185.3 308.7 185.8 309.1 186.4 310.8 186.9 308.4 187.4 308.5 187.9 311.1 188.4 311.0 188.9 310.8 189.4 311.5 189.9 309.5 190.4 308.0 190.9 306.4 191.4 305.6 191.9 307.3 192.4 309.1 192.9 308.7 193.5 308.0 194.0 309.0 194.5 309.9 195.0 309.9 195.5 307.2 196.0 307.1 196.5 304.5 197.0 306.1 197.5 305.6 198.0 305.4 198.5 307.9 199.0 309.3 199.5 308.9 200.1 308.3 200.6 307.6 201.1 306.1 201.6 305.7 202.1 307.8 202.6 305.5 203.1 304.1 203.6 304.2 204.1 305.1 204.6 305.4 205.1 303.2 205.6 302.7 206.1 302.1 206.6 300.4 207.2 300.8 207.7 300.2 208.2 301.6 208.7 301.7 209.2 300.1 209.7 300.0 210.2 299.3 210.7 298.5 211.2 298.0 211.7 299.7 212.2 298.7 212.6 296.4 213.1 296.0 213.6 297.6 214.1 300.4 214.6 298.0 215.1 297.2 215.6 296.7 216.1 294.8 216.6 295.9 217.1 295.9 217.6 296.3 218.0 299.0 218.5 297.4 219.0 297.6 219.5 297.8 220.0 295.9 220.5 295.0 221.0 297.2 221.5 297.6 222.0 297.2 222.5 295.4 223.0 296.8 223.4 297.2 223.9 299.7 224.4 300.4 224.9 300.1 225.4 299.3 225.9 298.5 226.4 297.3 226.9 297.6 227.4 297.4 227.9 297.7 228.4 298.3 229.0 297.6 229.5 296.0 230.0 296.6 230.5 298.1 231.0 295.9 231.5 296.1 232.0 296.4 232.6 296.5 233.1 296.5 233.6 295.7 234.1 295.2 234.6 297.1 235.1 298.5 235.6 295.2 236.1 291.5 236.6 293.0 237.1 292.5 237.7 292.3 238.2 290.8 238.7 292.3 239.2 292.8 239.7 292.4 240.2 294.5 240.8 298.4 241.3 299.5 241.8 299.7 242.3 297.3 242.8 297.5 243.4 296.6 243.9 298.0 244.4 297.8 244.9 296.9 245.4 297.1 245.9 295.7 246.3 296.7 246.8 298.3 247.3 297.1 247.8 297.5 248.3 295.0 248.8 296.7 249.3 297.7 249.8 296.1 250.2 298.5 250.7 298.1 251.2 295.7 251.7 294.5 252.2 296.6 252.7 296.1 253.2 297.5 253.6 294.8 254.1 294.9 254.6 296.2 255.1 294.8 255.6 295.6 256.1 294.6 256.6 294.7 257.0 294.7 257.5 297.1 258.0 294.0 258.5 294.9 259.0 296.2 259.4 293.9 259.9 294.0 260.4 297.0 260.9 297.3 261.4 292.4 261.9 292.8 262.3 291.1 262.8 292.7 263.3 292.4 263.8 291.9 264.3 291.1 264.8 291.9 265.4 291.2 265.9 290.1 266.4 290.1 266.9 290.7 267.4 289.3 267.9 290.8 268.5 288.1 269.0 288.8 269.5 288.1 270.0 290.0 270.5 288.7 271.0 287.7 271.5 286.3 272.1 289.5 272.6 289.8 273.1 287.9 273.6 287.6 274.1 286.6 274.6 289.0 275.1 289.2 275.7 286.2 276.2 287.1 276.7 288.5 277.2 288.3 277.7 288.6 278.2 288.0 278.7 287.9 279.1 287.8 279.6 286.5 280.1 286.9 280.6 286.8 281.1 286.5 281.6 285.4 282.1 284.2 282.6 284.9 283.1 286.1 283.5 282.6 284.0 282.7 284.5 285.1 285.0 286.0 285.5 284.7 286.0 286.2 286.5 284.5 287.0 283.5 287.4 286.1 287.9 285.0 288.4 284.5 288.9 282.4 289.4 281.9 289.9 281.3 290.4 282.1 290.9 280.6 291.4 283.0 291.8 282.9 292.3 282.5 292.8 282.2 293.3 283.7 293.8 285.5 294.3 284.6 294.8 286.5 295.3 287.9 295.8 288.5 296.3 287.6 296.8 285.0 297.3 286.0 297.8 285.4 298.3 285.8 298.8 283.6 299.4 284.2 299.9 285.3 300.4 284.6 300.9 285.7 301.4 288.2 301.9 288.1 302.4 287.0 302.9 290.1 303.4 286.7 303.9 286.0 304.4 287.2 304.9 286.9 305.4 284.0 305.9 287.2 306.5 290.6 307.0 290.2 307.5 294.5 308.1 295.8 308.6 298.3 309.1 295.2 309.6 295.2 310.1 297.2 310.6 299.0 311.1 299.2 311.6 297.6 312.1 296.8 312.6 295.2 313.0 296.3 313.5 294.7 314.0 294.6 314.5 291.8 315.0 290.6 315.5 293.9 316.0 293.8 316.5 294.1 317.0 290.8 317.5 291.8 318.0 295.4 318.5 292.7 319.1 289.6 319.6 290.8 320.1 291.0 320.6 291.7 321.1 290.6 321.6 289.7 322.1 289.2 322.6 291.1 323.1 291.4 323.6 292.5 324.1 290.7 324.6 291.6 325.0 290.7 325.5 290.7 326.0 291.6 326.5 291.0 327.0 290.0 327.5 287.5 328.0 288.0 328.5 289.2 329.0 288.2 329.5 288.2 330.0 286.0 330.5 285.1 331.0 286.5 331.5 288.5 331.9 287.8 332.4 285.5 332.9 285.6 333.4 284.1 333.9 284.7 334.4 287.7 334.9 287.6 335.4 286.9 335.9 287.9 336.4 286.4 336.9 286.4 337.4 286.0 337.9 286.0 338.4 283.2 338.9 284.3 339.4 285.2 339.8 281.2 340.3 277.8 340.8 278.1 341.3 281.6 341.8 281.6 342.3 282.5 342.8 282.7 343.3 283.2 343.8 281.3 344.3 280.8 344.8 281.9 345.3 283.2 345.8 284.1 346.2 284.5 346.7 283.7 347.2 285.7 347.7 286.2 348.2 287.5 348.7 283.4 349.2 285.9 349.7 282.8 350.1 284.7 350.6 284.8 351.1 286.2 351.6 286.4 352.1 286.9 352.6 287.5 353.1 288.0 353.6 286.8 354.1 283.7 354.5 283.9 355.0 285.7 355.5 285.0 356.0 286.2 356.5 285.8 357.0 284.8 357.5 286.8 358.0 288.7 358.4 287.6 358.9 286.9 359.4 287.7 359.9 285.2 360.4 284.1 360.9 285.8 361.4 286.5 361.9 284.9 362.4 283.3 362.8 283.7 363.3 281.5 363.8 281.1 364.3 281.1 364.8 277.9 365.3 279.9 365.8 281.3 366.3 282.5 366.7 279.7 367.2 278.0 367.7 277.4 368.2 276.2 368.7 279.9 369.2 278.7 369.7 279.0 370.2 279.9 370.7 281.0 371.2 283.2 371.7 281.3 372.2 282.8 372.7 282.9 373.1 281.3 373.6 282.2 374.1 280.7 374.6 284.0 375.1 283.1 375.6 284.9 376.1 286.7 376.6 285.3 377.1 284.1 377.6 284.1 378.1 282.2 378.6 283.6 379.1 283.3 379.6 281.6 380.1 280.4 380.6 281.5 381.0 279.0 381.5 281.5 382.0 279.6 382.5 279.0 383.0 277.4 383.5 279.8 384.0 280.0 384.5 281.2 385.0 281.2 385.5 280.5 386.0 282.3 386.5 282.1 387.0 281.7 387.4 281.7 387.9 282.0 388.4 281.7 388.9 280.9 389.4 278.5 389.9 281.9 390.4 279.7 390.9 277.2 391.4 277.1 391.9 280.4 392.4 281.5 392.9 279.7 393.4 279.5 393.9 278.9 394.4 275.8 394.9 275.9 395.4 276.7 396.0 278.2 396.5 276.0 397.0 273.0 397.5 271.9 398.0 273.5 398.5 274.2 399.0 274.6 399.5 274.7 400.0 274.0 400.5 272.1 401.0 273.1 401.5 273.5 402.0 273.9 402.5 275.0 403.0 272.2 403.5 268.9 404.1 267.3 404.6 271.3 405.1 269.8 405.6 270.4 406.1 270.1 406.6 270.7 407.1 274.3 407.6 271.6 408.1 270.7 408.6 269.6 409.1 270.0 409.6 270.6 410.1 269.2 410.6 271.2 411.1 272.3 411.6 272.2 412.0 271.5 412.5 270.9 413.0 268.8 413.5 270.4 414.0 269.4 414.5 269.4 415.0 271.3 415.5 270.2 416.0 270.0 416.5 271.4 417.0 273.6 417.5 271.7 418.1 272.7 418.6 271.2 419.1 271.4 419.6 271.6 420.1 269.7 420.6 271.1 421.1 273.0 421.6 272.0 422.1 271.5 422.7 269.4 423.2 271.7 423.7 271.0 424.2 268.8 424.7 269.7 425.2 267.2 425.7 266.5 426.2 264.0 426.7 266.9 427.2 269.8 427.7 267.8 428.2 266.3 428.7 265.3 429.2 264.5 429.8 265.4 430.3 267.1 430.8 264.7 431.3 265.0 431.8 262.1 432.3 264.5 432.8 263.8 433.3 262.4 433.8 264.3 434.3 263.3 434.8 264.5 435.3 264.7 435.8 265.8 436.3 263.5 436.8 263.1 437.3 263.2 437.8 262.7 438.3 264.5 438.8 262.9 439.3 264.0 439.8 265.2 440.3 261.9 440.9 261.0 441.4 260.6 441.9 260.7 442.4 262.1 442.9 262.2 443.4 262.7 443.9 262.4 444.4 262.6 444.9 263.6 445.4 264.5 445.9 263.3 446.4 263.3 446.9 262.1 447.4 262.0 447.9 260.2 448.4 262.0 448.9 262.8 449.4 262.1 450.0 260.8 450.5 260.1 451.0 259.3 451.5 257.5 452.0 260.5 452.5 264.5 453.0 261.0 453.5 258.9 454.0 259.8 454.5 260.4 454.9 257.9 455.4 255.8 455.9 257.6 456.4 255.4 456.9 258.4 457.4 257.8 457.9 258.1 458.4 258.2 458.8 257.5 459.3 257.5 459.8 257.3 460.3 259.1 460.8 258.5 461.3 258.1 461.8 257.2 462.3 256.4 462.8 255.8 463.3 256.2 463.8 258.8 464.3 259.5 464.8 258.8 465.3 260.1 465.8 260.1 466.3 259.0 466.8 257.8 467.2 255.8 467.7 256.1 468.2 255.6 468.7 253.6 469.2 252.6 469.7 256.0 470.2 256.0 470.7 256.3 471.2 256.1 471.7 255.0 472.2 255.5 472.7 256.5 473.2 255.4 473.7 255.6 474.2 256.4 474.7 255.7 475.2 256.4 475.7 255.8 476.2 257.7 476.7 257.7 477.2 260.1 477.7 259.2 478.2 262.4 478.7 261.8 479.2 260.9 479.7 260.5 480.2 261.6 480.7 260.0 481.2 262.7 481.7 263.5 482.2 262.8 482.7 259.4 483.2 259.1 483.7 257.7 484.2 255.1 484.7 256.5 485.3 259.8 485.8 257.9 486.3 258.4 486.8 259.3 487.3 256.5 487.8 255.5 488.3 255.5 488.8 255.7 489.3 253.3 489.8 253.6 490.3 253.2 490.8 254.4 491.3 251.9 491.8 251.5 492.3 251.3 492.9 251.4 493.4 252.7 493.9 251.8 494.4 255.5 494.9 253.4 495.4 254.0 495.9 254.5 496.4 254.8 496.9 253.4 497.4 251.6 497.9 251.1 498.5 252.0 499.0 251.8 499.5 252.2 500.0 252.4 500.5 250.6 501.0 249.4 501.5 251.6 502.0 250.6 502.5 248.6 503.0 251.6 503.4 250.1 503.9 249.0 504.4 250.7 504.9 249.1 505.4 248.4 505.9 250.3 506.4 249.2 506.9 252.6 507.4 251.8 507.9 254.5 508.3 253.0 508.8 252.0 509.3 250.4 509.8 249.9 510.3 249.2 510.8 249.3 511.3 250.5 511.8 248.7 512.3 248.0 512.8 246.0 513.3 249.4 513.7 249.6 514.2 249.8 514.7 250.0 515.2 251.4 515.7 251.5 516.2 252.3 516.7 251.5 517.2 251.1 517.7 250.9 518.2 248.5 518.6 250.8 519.1 248.8 519.6 248.3 520.1 250.2 520.6 250.6 521.1 251.9 521.6 255.3 522.1 258.0 522.6 259.3 523.1 257.9 523.6 260.9 524.1 258.4 524.5 258.4 525.0 260.4 525.5 260.1 526.0 260.3 526.5 260.4 527.0 263.5 527.5 259.6 528.0 261.4 528.5 261.6 529.0 259.2 529.5 258.3 529.9 254.4 530.4 255.2 530.9 258.6 531.4 253.2 531.9 254.1 532.4 252.9 532.9 251.9 533.4 251.0 534.0 250.8 534.5 249.5 535.0 248.5 535.5 251.6 536.0 251.6 536.5 252.3 537.0 252.5 537.5 252.9 538.0 250.7 538.5 250.0 539.0 251.5 539.6 253.0 540.1 251.4 540.6 251.0 541.1 250.2 541.6 251.9 542.1 253.3 542.6 253.9 543.1 253.3 543.6 254.8 544.1 255.5 544.6 254.8 545.0 256.4 545.5 255.9 546.0 258.6 546.5 260.0 547.0 258.9 547.5 260.5 548.0 260.9 548.5 259.6 549.0 258.4 549.6 256.5 550.1 256.0 550.6 257.5 551.1 259.5 551.6 258.4 552.2 258.6 552.7 258.9 553.2 259.6 553.7 259.4 554.2 260.3 554.7 260.1 555.2 257.6 555.7 257.6 556.2 253.4 556.7 253.7 557.2 254.1 557.7 255.0 558.2 254.1 558.7 255.1 559.2 256.3 559.7 253.9 560.2 252.5 560.7 252.7 561.2 253.0 561.7 252.6 562.2 253.2 562.7 250.9 563.2 251.9 563.7 253.1 564.2 253.7 564.8 253.1 565.3 251.8 565.8 251.8 566.3 251.0 566.8 248.5 567.3 248.1 567.8 248.5 568.3 248.1 568.8 247.2 569.3 247.5 569.9 247.5 570.4 248.0 570.9 248.1 571.4 248.4 571.9 249.7 572.4 249.3 572.9 249.5 573.4 247.7 573.9 244.3 574.4 245.3 574.9 247.4 575.3 247.4 575.8 247.1 576.3 246.2 576.8 248.3 577.3 247.9 577.8 248.6 578.3 250.2 578.8 250.5 579.3 252.8 579.8 251.4 580.2 251.9 580.7 251.8 581.2 250.2 581.7 250.0 582.2 249.1 582.7 248.0 583.2 248.9 583.7 248.1 584.2 250.7 584.7 249.3 585.2 248.7 585.6 249.0 586.1 248.5 586.6 248.9 587.1 248.3 587.6 246.9 588.1 244.8 588.6 244.8 589.1 248.2 589.6 249.2 590.1 249.4 590.5 248.8 591.0 248.8 591.5 249.3 592.0 247.6 592.5 247.2 593.0 246.8 593.5 249.0 594.0 247.2 594.5 248.9 595.0 247.6 595.5 251.0 595.9 249.3 596.4 248.2 596.9 249.1 597.4 248.9 597.9 248.8 598.4 245.9 598.9 246.8 599.4 248.0 599.9 246.3 600.4 244.5 600.8 242.4 601.3 243.8 601.8 243.5 602.3 242.9 602.8 240.7 603.3 242.9 603.8 243.4 604.3 242.6 604.8 244.0 605.3 241.7 605.8 242.5 606.4 240.6 606.9 242.4 607.4 241.4 607.9 242.6 608.4 241.2 608.9 241.3 609.4 242.3 609.9 240.3 610.4 240.2 611.0 239.0 611.5 240.3 612.0 239.2 612.5 238.7 613.0 238.6 613.5 240.3 614.0 238.6 614.5 238.8 615.0 238.5 615.5 238.0 616.0 237.4 616.4 237.8 616.9 238.5 617.4 236.7 617.9 237.8 618.4 236.7 618.9 237.5 619.4 241.0 619.9 239.0 620.4 238.9 620.9 238.6 621.3 240.0 621.8 239.0 622.3 236.6 622.8 235.3 623.3 236.8 623.8 237.8 624.3 239.4 624.8 238.2 625.3 239.0 625.8 237.1 626.3 239.0 626.8 238.3 627.3 237.0 627.8 237.2 628.4 239.3 628.9 237.2 629.4 235.3 629.9 234.3 630.4 233.3 630.9 234.1 631.4 235.1 631.9 235.0 632.4 235.3 632.9 236.8 633.4 235.7 633.9 233.7 634.4 230.9 634.9 232.4 635.4 232.1 636.0 232.4 636.5 233.4 637.0 234.0 637.5 231.7 638.0 230.9 638.5 231.7 639.0 231.9 639.5 233.6 640.0 232.5 640.5 229.5 641.0 231.9 641.5 229.6 642.0 228.9 642.5 230.2 643.0 229.0 643.5 233.2 644.0 232.6 644.5 232.6 645.0 231.2 645.5 233.9 646.0 233.2 646.5 230.9 647.0 232.2 647.5 228.7 648.0 228.0 648.5 228.3 649.0 228.1 649.5 226.0 650.0 228.4 650.5 229.6 651.0 226.4 651.5 226.1 652.0 224.2 652.5 223.0 653.1 224.3 653.6 223.5 654.1 222.4 654.6 221.9 655.1 219.3 655.6 221.1 656.1 219.1 656.6 220.7 657.1 218.8 657.6 218.5 658.1 223.0 658.6 223.3 659.1 221.9 659.6 221.6 660.1 224.2 660.6 229.1 661.1 228.4 661.6 226.4 662.1 224.0 662.6 223.1 663.1 223.4 663.6 224.1 664.0 223.2 664.5 225.5 665.0 223.6 665.5 222.8 666.0 224.0 666.5 224.8 667.0 224.0 667.5 225.1 668.0 222.6 668.5 224.9 668.9 227.0 669.4 228.0 669.9 226.1 670.4 227.3 670.9 225.4 671.4 225.8 671.9 224.0 672.4 223.3 672.8 223.1 673.3 220.0 673.8 219.9 674.3 222.2 674.8 217.8 675.3 219.4 675.8 221.2 676.4 221.6 676.9 221.7 677.4 223.5 677.9 223.2 678.4 220.0 678.9 219.3 679.4 219.7 679.9 220.6 680.5 220.4 681.0 220.8 681.5 223.4 682.0 219.0 682.5 221.2 683.0 222.2 683.5 222.3 684.0 221.5 684.5 220.9 685.0 220.7 685.5 220.4 686.0 218.7 686.5 219.5 686.9 217.8 687.4 217.6 687.9 216.9 688.4 215.3 688.9 216.5 689.4 216.2 689.9 214.4 690.4 214.6 690.9 212.9 691.4 215.4 691.9 216.8 692.4 220.3 692.9 218.6 693.4 219.8 693.9 218.0 694.4 217.3 694.9 218.3 695.4 219.9 696.0 222.0 696.5 221.7 697.0 223.9 697.5 225.3 698.0 223.4 698.5 223.6 699.0 222.7 699.5 226.5 700.0 225.6 700.5 228.4 701.0 230.6 701.5 230.3 701.9 230.0 702.4 231.8 702.9 231.2 703.4 230.3 703.9 230.7 704.4 233.9 704.9 236.1 705.3 240.9 705.8 237.6 706.3 240.3 706.8 239.3 707.3 241.2 707.8 241.0 708.3 239.3 708.8 240.5 709.3 237.0 709.8 233.9 710.2 230.3 710.7 228.4 711.2 228.3 711.7 228.9 712.2 230.2 712.7 227.3 713.2 224.0 713.7 222.2 714.2 221.8 714.7 221.4 715.2 221.2 715.6 220.3 716.1 220.8 716.6 220.5 717.1 220.6 717.6 219.0 718.1 219.9 718.5 221.1 719.0 221.9 719.5 220.7 720.0 219.0 720.5 217.6 721.0 216.7 721.5 216.7 722.0 217.0 722.5 215.2 723.0 217.2 723.5 215.4 724.0 215.2 724.5 215.0 725.1 216.8 725.6 219.2 726.1 217.7 726.6 216.7 727.1 215.8 727.6 215.4 728.1 215.0 728.6 218.2 729.1 215.4 729.6 214.9 730.1 213.6 730.6 214.3 731.1 213.5 731.6 214.5 732.0 212.6 732.5 216.0 733.0 215.4 733.5 212.1 734.0 213.5 734.5 212.6 735.0 211.0 735.5 211.9 736.0 211.2 736.5 212.2 737.0 211.1 737.4 212.1 737.9 211.6 738.4 211.5 738.9 211.0 739.4 209.9 739.9 209.0 740.4 209.4 740.8 209.8 741.3 208.6 741.8 211.0 742.3 211.8 742.8 208.5 743.3 209.2 743.8 207.8 744.3 207.2 744.8 205.2 745.3 207.2 745.9 204.9 746.4 204.2 746.9 202.7 747.4 205.4 747.9 206.0 748.4 202.6 748.9 201.5 749.4 201.7 749.9 200.6 750.5 199.8 751.0 198.2 751.5 198.8 752.0 197.1 752.5 198.7 753.0 201.7 753.5 200.2 754.0 201.7 754.5 201.0 755.0 199.3 755.5 198.6 756.0 197.4 756.5 197.9 757.0 199.0 757.5 200.1 758.0 199.2 758.5 197.5 759.0 197.8 759.5 200.2 760.0 200.0 760.5 199.1 761.0 195.5 761.5 195.4 762.0 196.7 762.5 195.3 763.0 197.6 763.5 196.2 764.0 194.7 764.5 194.1 765.0 194.3 765.5 195.9 766.0 194.6 766.5 191.8 767.0 192.4 767.5 193.6 768.0 195.7 768.5 193.1 769.0 202.1 769.5 206.4 770.0 209.6 770.4 208.7 770.9 208.9 771.4 210.1 771.9 218.8 772.5 225.6 773.0 235.2 773.6 246.2 774.1 240.8 774.6 236.3 775.1 239.5 775.5 229.4 776.0 225.1 776.5 221.8 777.0 218.8 777.5 219.0 778.0 217.3 778.5 219.1 779.0 215.9 779.5 214.3 780.0 211.6 780.5 210.0 781.0 212.0 781.5 213.0 782.0 212.0 782.5 212.8 783.0 212.6 783.4 210.4 783.9 209.6 784.4 209.4 784.9 211.5 785.4 208.8 785.9 208.1 786.3 207.6 786.8 208.0 787.3 206.8 787.8 207.1 788.3 203.5 788.8 202.3 789.3 198.5 789.8 199.1 790.2 203.3 790.7 202.3 791.2 201.1 791.7 200.5 792.2 199.7 792.7 196.5 793.2 195.3 793.7 195.2 794.2 195.5 794.7 193.7 795.1 193.7 795.6 192.4 796.1 190.3 796.6 190.0 797.1 189.2 797.6 191.4 798.1 193.2 798.6 193.0 799.1 191.6 799.6 189.9 800.1 187.2 800.6 186.7 801.0 189.4 801.5 190.3 802.0 189.3 802.5 187.8 803.0 187.0 803.5 186.9 804.0 186.0 804.5 186.2 805.0 184.2 805.5 184.2 805.9 183.4 806.4 185.1 806.9 182.4 807.4 184.5 807.9 183.6 808.4 182.3 808.9 182.1 809.4 182.1 809.8 181.4 810.3 181.8 810.8 180.4 811.3 177.7 811.8 178.5 812.3 177.3 812.9 178.8 813.4 177.2 813.9 171.9 814.4 173.1 815.0 170.3 815.5 170.0 816.0 172.0 816.5 172.1 817.0 168.3 817.5 167.4 818.0 164.1 818.5 165.6 819.1 166.3 819.6 164.0 820.1 164.8 820.6 165.9 821.1 166.3 821.6 164.0 822.1 162.9 822.6 161.7 823.1 160.7 823.6 162.1 824.0 162.7 824.5 164.8 825.0 164.8 825.5 164.0 826.0 162.0 826.5 164.5 827.0 163.5 827.5 162.3 827.9 159.5 828.4 157.5 828.9 158.7 829.4 156.5 829.9 157.5 830.3 157.9 830.8 156.2 831.3 152.8 831.8 153.7 832.3 155.5 832.8 153.6 833.4 151.7 833.9 153.4 834.4 153.1 835.0 151.8 835.5 153.2 836.0 152.0 836.5 152.0 837.0 150.6 837.5 149.0 838.0 149.2 838.4 147.6 838.9 145.1 839.4 145.1 839.9 147.4 840.4 148.6" stroke="#000000"/></g>
<g stroke="#ff0000" stroke-width="2.2" stroke-dasharray="7.8 6.12"><line x1="392" y1="74" x2="392" y2="347.5" stroke-dashoffset="0"/><line x1="430" y1="74" x2="430" y2="347.5" stroke-dashoffset="0"/><line x1="476.8" y1="75.8" x2="476.8" y2="350" stroke-dashoffset="0"/><line x1="498.7" y1="71" x2="498.7" y2="353.5" stroke-dashoffset="5"/><line x1="544.8" y1="74" x2="544.8" y2="347.5" stroke-dashoffset="0"/><line x1="612" y1="72.2" x2="612" y2="346" stroke-dashoffset="0"/></g>
<text x="461" y="25" text-anchor="middle" font-size="20" font-weight="bold" style="font-family:'Liberation Serif',serif">美联储货币政策正常化过程中的股市表现</text>
<g fill="#ffff00" stroke="#385d8a" stroke-width="1">
<rect x="170.5" y="52.5" width="142" height="29"/>
<rect x="319.5" y="31.5" width="142" height="29"/>
<rect x="483.5" y="30.5" width="142" height="29"/>
<rect x="626.5" y="310.5" width="142" height="29"/>
</g>
<g font-size="18.2" fill="#000" text-anchor="middle" font-weight="300">
<text x="241" y="73">释放Taper信号</text>
<text x="390" y="52">正式启动Taper</text>
<text x="554" y="51">释放加息信号</text>
<text x="697" y="331">正式加息</text>
</g>
<g stroke="#1a1a1a" stroke-width="1.3" stroke-dasharray="4.3 2.7" fill="none">
<path d="M308,82.8 L376.3,114.3"/>
<path d="M420.3,60.7 L426.3,105.8"/>
<path d="M556.6,61 L521.9,80.3"/>
<path d="M625.7,328.9 L553.7,334.7"/>
</g>
<g fill="#000">
<path d="M376.3,119.6 L387.5,119.1 L381.1,111.1 Z"/>
<path d="M422.3,106.5 L432.2,105.2 L428.3,115.1 Z"/>
<path d="M511.1,86.3 L521.4,85.9 L516.1,77.7 Z"/>
<path d="M543.8,336.1 L553,330.2 L551.8,335.6 L554,340.9 Z"/>
</g>
<g font-size="17.5" fill="#000">
<line x1="73.6" y1="449" x2="106.3" y2="449" stroke="#000" stroke-width="2"/>
<text x="110.5" y="455" textLength="71.5" lengthAdjust="spacingAndGlyphs">MSCI美国</text>
<line x1="251.3" y1="449" x2="284.5" y2="449" stroke="#ff0000" stroke-width="2"/>
<text x="288.5" y="455">上证综合指数</text>
<line x1="462.3" y1="449" x2="495.4" y2="449" stroke="#00b050" stroke-width="2"/>
<text x="499" y="455">创业板指数</text>
<line x1="656.6" y1="449" x2="689.2" y2="449" stroke="#7030a0" stroke-width="2"/>
<text x="693" y="455" textLength="178" lengthAdjust="spacingAndGlyphs">MSCI新兴市场（右轴）</text>
</g>
<defs><filter id="sh" x="-10%" y="-10%" width="130%" height="130%"><feDropShadow dx="1" dy="1" stdDeviation="0.6" flood-color="#333" flood-opacity="0.75"/></filter></defs>
<path d="M784.3,409.4 C777,409.4 772.3,414.2 772.3,420.2 C772.3,423.7 774.1,426.6 776.9,428.5 L776.2,432.6 L780.8,430.6 C782,430.9 783.1,431 784.3,431 C791.6,431 796.3,426.2 796.3,420.2 C796.3,414.2 791.6,409.4 784.3,409.4 Z" fill="#fff" fill-opacity="0.93" stroke="#888" stroke-opacity="0.45" stroke-width="1"/>
<g fill="#a9d3df"><ellipse cx="780" cy="416.6" rx="1.6" ry="1.2"/><ellipse cx="790.2" cy="416.6" rx="1.6" ry="1.2"/></g>
<path d="M796.8,419.3 C790.6,419.3 785.8,423.6 785.8,428.9 C785.8,434.2 790.6,438.5 796.8,438.5 C798,438.5 799.2,438.3 800.3,438 L804.6,440 L803.6,436.2 C806.2,434.5 807.8,431.9 807.8,428.9 C807.8,423.6 803,419.3 796.8,419.3 Z" fill="#fff" fill-opacity="0.95" stroke="#444" stroke-opacity="0.6" stroke-width="1"/>
<g fill="#6a8a96"><ellipse cx="792.9" cy="425.6" rx="1.5" ry="1.3"/><ellipse cx="800.6" cy="425.6" rx="1.5" ry="1.3"/></g>
<text x="814" y="433.5" font-size="22.8" fill="#fff" filter="url(#sh)">涛动宏观</text>
</svg>
</body></html>
